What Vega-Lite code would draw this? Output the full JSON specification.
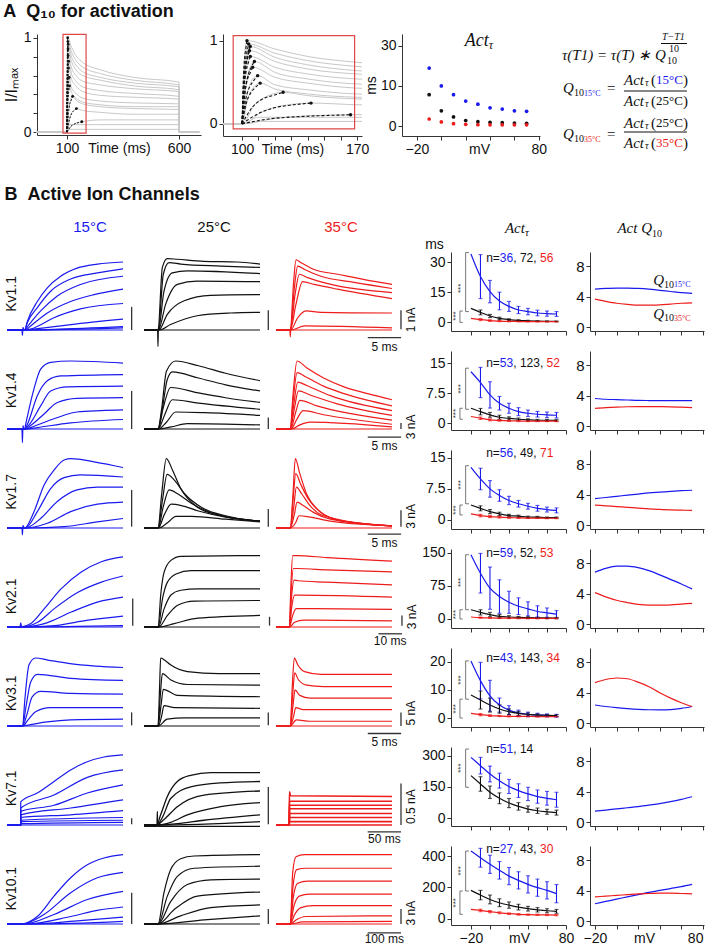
{
"$schema":"https://vega.github.io/schema/vega-lite/v6.json",
"padding":{"left":3,"top":2,"right":0,"bottom":0},
"title":{"text":"A\u00a0\u00a0Q₁₀ for activation","anchor":"start","fontSize":18,"fontWeight":"bold","offset":10},
"bounds":"full","spacing":29,
"config":{"view":{"stroke":null},"font":"Liberation Sans",
"axis":{"labelFont":"Liberation Sans","labelFontSize":14,"titleFont":"Liberation Sans","titleFontSize":14,"titleFontWeight":"normal","domainColor":"#333333","tickColor":"#333333","labelColor":"#111111","titleColor":"#111111","tickSize":4,"grid":false,"labelPadding":2,"labelFlush":false,"labelOverlap":false},
"title":{"font":"Liberation Sans","fontWeight":"normal","fontSize":15,"color":"#111111"},
"text":{"font":"Liberation Sans","color":"#111111"}},
"datasets":{
"ga":[
{"i":1,"t":[-35,100,101,101.8,103,120,140,170,250,400,600,601,690],"v":[0,0,0.6,0.88,1.0,0.9,0.81,0.74,0.66,0.58,0.53,0,0]},
{"i":2,"t":[-35,100,101.2,102.4,104,120,140,170,250,400,600,601,690],"v":[0,0,0.58,0.84,0.96,0.85,0.76,0.69,0.62,0.55,0.5,0,0]},
{"i":3,"t":[-35,100,101.5,103,105,120,140,170,250,400,600,601,690],"v":[0,0,0.56,0.82,0.93,0.8,0.71,0.64,0.58,0.52,0.48,0,0]},
{"i":4,"t":[-35,100,101.4,102.7,104.5,120,140,170,250,400,600,601,690],"v":[0,0,0.53,0.77,0.88,0.75,0.66,0.6,0.55,0.49,0.45,0,0]},
{"i":5,"t":[-35,100,101.5,103,105,120,140,170,250,400,600,601,690],"v":[0,0,0.49,0.71,0.81,0.68,0.6,0.54,0.5,0.46,0.43,0,0]},
{"i":6,"t":[-35,100,102.3,104.5,107.5,120,140,170,250,400,600,601,690],"v":[0,0,0.45,0.66,0.75,0.62,0.54,0.48,0.44,0.41,0.38,0,0]},
{"i":7,"t":[-35,100,102,103.9,106.5,120,140,170,250,400,600,601,690],"v":[0,0,0.41,0.6,0.68,0.56,0.49,0.43,0.39,0.37,0.35,0,0]},
{"i":8,"t":[-35,100,102.9,105.7,109.5,120,140,170,250,400,600,601,690],"v":[0,0,0.35,0.51,0.58,0.47,0.41,0.36,0.33,0.31,0.3,0,0]},
{"i":9,"t":[-35,100,103.3,106.6,111,120,140,170,250,400,600,601,690],"v":[0,0,0.29,0.43,0.49,0.42,0.36,0.32,0.29,0.27,0.27,0,0]},
{"i":10,"t":[-35,100,107.5,115,125,140,170,250,400,600,601,690],"v":[0,0,0.23,0.33,0.38,0.34,0.3,0.27,0.25,0.24,0,0]},
{"i":11,"t":[-35,100,112.6,125.2,142,170,250,400,600,601,690],"v":[0,0,0.15,0.22,0.25,0.23,0.21,0.19,0.19,0,0]},
{"i":12,"t":[-35,100,119.8,139.6,166,250,400,600,601,690],"v":[0,0,0.066,0.097,0.11,0.13,0.13,0.13,0,0]},
{"i":13,"t":[-35,100,110,600,601,690],"v":[0,0,0.08,0.08,0,0]},
{"i":14,"t":[-35,100,110,600,601,690],"v":[0,0,0.03,0.03,0,0]}],
"gd":[
{"i":1,"t":[100,100.75,101.5,102.25,103],"v":[0,0.53,0.78,0.9,1.0]},
{"i":2,"t":[100,101,102,103,104],"v":[0,0.51,0.75,0.86,0.96]},
{"i":3,"t":[100,101.25,102.5,103.75,105],"v":[0,0.49,0.73,0.84,0.93]},
{"i":4,"t":[100,101.1,102.25,103.4,104.5],"v":[0,0.47,0.69,0.79,0.88]},
{"i":5,"t":[100,101.25,102.5,103.75,105],"v":[0,0.43,0.63,0.73,0.81]},
{"i":6,"t":[100,101.9,103.75,105.6,107.5],"v":[0,0.4,0.59,0.68,0.75]},
{"i":7,"t":[100,101.6,103.25,104.9,106.5],"v":[0,0.36,0.53,0.61,0.68]},
{"i":8,"t":[100,102.4,104.75,107.1,109.5],"v":[0,0.31,0.45,0.52,0.58]},
{"i":9,"t":[100,102.75,105.5,108.25,111],"v":[0,0.26,0.38,0.44,0.49]},
{"i":10,"t":[100,106.25,112.5,118.75,125],"v":[0,0.2,0.3,0.34,0.38]},
{"i":11,"t":[100,110.5,121,131.5,142],"v":[0,0.13,0.2,0.23,0.25]},
{"i":12,"t":[100,116.5,133,149.5,166],"v":[0,0.06,0.086,0.1,0.11]}],
"gp":[{"t":103,"v":1.0},{"t":104,"v":0.96},{"t":105,"v":0.93},{"t":104.5,"v":0.88},{"t":105,"v":0.81},{"t":107.5,"v":0.75},{"t":106.5,"v":0.68},{"t":109.5,"v":0.58},{"t":111,"v":0.49},{"t":125,"v":0.38},{"t":142,"v":0.25},{"t":166,"v":0.11}],
"a3":[
{"T":"15","mv":[-10,0,10,20,30,40,50,60,70],"m":[17.3,10.0,7.2,5.4,4.6,3.7,3.4,3.0,2.9]},
{"T":"25","mv":[-10,0,10,20,30,40,50,60,70],"m":[7.2,3.0,1.7,1.0,0.77,0.66,0.59,0.53,0.48]},
{"T":"35","mv":[-10,0,10,20,30,40,50,60,70],"m":[1.29,0.72,0.41,0.3,0.23,0.2,0.2,0.2,0.2]}],
"eq":[
{"k":"i15","x":6,"y":21,"txt":"τ(T1) = τ(T) ∗ Q"},
{"k":"r10","x":111,"y":27,"txt":"10"},
{"k":"i10","x":106,"y":3,"txt":"T−T1"},
{"k":"bar","x":105,"x2":131,"y":9.5,"y2":9.5},
{"k":"r10","x":113,"y":15,"txt":"10"},
{"k":"i15","x":7,"y":54,"txt":"Q"},
{"k":"r10","x":18,"y":59,"txt":"10"},
{"k":"t8","x":28,"y":60,"txt":"15°C","T":"15"},
{"k":"r15","x":51,"y":54,"txt":"="},
{"k":"i15","x":68,"y":46,"txt":"Act"},
{"k":"i10","x":89,"y":49,"txt":"τ"},
{"k":"r15","x":95,"y":46,"txt":"("},
{"k":"t13","x":100,"y":46,"txt":"15°C","T":"15"},
{"k":"r15","x":127,"y":46,"txt":")"},
{"k":"bar","x":68,"x2":131,"y":57,"y2":57},
{"k":"i15","x":68,"y":67,"txt":"Act"},
{"k":"i10","x":89,"y":70,"txt":"τ"},
{"k":"r15","x":95,"y":67,"txt":"("},
{"k":"t13","x":100,"y":67,"txt":"25°C","T":"25"},
{"k":"r15","x":127,"y":67,"txt":")"},
{"k":"i15","x":7,"y":100,"txt":"Q"},
{"k":"r10","x":18,"y":105,"txt":"10"},
{"k":"t8","x":28,"y":106,"txt":"35°C","T":"35"},
{"k":"r15","x":51,"y":100,"txt":"="},
{"k":"i15","x":68,"y":89,"txt":"Act"},
{"k":"i10","x":89,"y":92,"txt":"τ"},
{"k":"r15","x":95,"y":89,"txt":"("},
{"k":"t13","x":100,"y":89,"txt":"25°C","T":"25"},
{"k":"r15","x":127,"y":89,"txt":")"},
{"k":"bar","x":68,"x2":131,"y":98,"y2":98},
{"k":"i15","x":68,"y":109,"txt":"Act"},
{"k":"i10","x":89,"y":112,"txt":"τ"},
{"k":"r15","x":95,"y":109,"txt":"("},
{"k":"t13","x":100,"y":109,"txt":"35°C","T":"35"},
{"k":"r15","x":127,"y":109,"txt":")"}],
"tr":[
{"c":"1.1","T":"15","i":0,"t":[0,2.2,2.27,2.35,2.5,17.06],"v":[0,0,-0.08,0.04,0,0]},
{"c":"1.1","T":"15","i":1,"t":[0,2.6,3.0,4.46,5.93,7.89,10.3,13.3,17.06],"v":[0,0,0.13,0.42,0.62,0.79,0.91,0.97,1.0]},
{"c":"1.1","T":"15","i":2,"t":[0,2.6,3.0,4.46,6.42,9.36,13.3,17.06],"v":[0,0,0.11,0.33,0.57,0.75,0.84,0.9]},
{"c":"1.1","T":"15","i":3,"t":[0,2.6,3.24,4.95,7.4,10.8,17.06],"v":[0,0,0.08,0.28,0.5,0.67,0.79]},
{"c":"1.1","T":"15","i":4,"t":[0,2.7,3.48,5.93,9.36,12.8,17.06],"v":[0,0,0.06,0.25,0.42,0.52,0.6]},
{"c":"1.1","T":"15","i":5,"t":[0,2.8,3.97,6.9,10.8,17.06],"v":[0,0,0.03,0.18,0.31,0.39]},
{"c":"1.1","T":"15","i":6,"t":[0,3,4.46,9.36,17.06],"v":[0,0,0.02,0.08,0.16]},
{"c":"1.1","T":"15","i":7,"t":[0,3,6.9,17.06],"v":[0,0,0.01,0.05]},
{"c":"1.1","T":"15","i":8,"t":[0,3,17.06],"v":[0,0,0.03]},
{"c":"1.1","T":"25","i":0,"t":[0,2.0,2.06,2.12,2.25,17.06],"v":[0,0,-0.24,0.05,0,0]},
{"c":"1.1","T":"25","i":1,"t":[0,2.06,2.7,3.43,4.9,8.8,13.7,17.06],"v":[0,0,0.92,1.05,1.04,1.01,1.0,0.97]},
{"c":"1.1","T":"25","i":2,"t":[0,2.1,2.84,3.68,5.4,11.3,17.06],"v":[0,0,0.82,0.99,0.97,0.94,0.92]},
{"c":"1.1","T":"25","i":3,"t":[0,2.1,2.94,4.17,6.4,17.06],"v":[0,0,0.57,0.84,0.87,0.83]},
{"c":"1.1","T":"25","i":4,"t":[0,2.1,3.19,4.9,7.8,17.06],"v":[0,0,0.38,0.67,0.72,0.71]},
{"c":"1.1","T":"25","i":5,"t":[0,2.15,3.43,5.9,9.8,17.06],"v":[0,0,0.23,0.43,0.51,0.52]},
{"c":"1.1","T":"25","i":6,"t":[0,2.2,3.9,7.8,12.7,17.06],"v":[0,0,0.08,0.21,0.25,0.26]},
{"c":"1.1","T":"35","i":0,"t":[0,2.05,2.1,2.18,2.3,17.06],"v":[0,0,-0.1,0.04,0,0]},
{"c":"1.1","T":"35","i":1,"t":[0,2.1,2.6,2.94,3.68,5.6,9.07,13,17.06],"v":[0,0,0.72,1.03,0.99,0.89,0.82,0.74,0.67]},
{"c":"1.1","T":"35","i":2,"t":[0,2.1,2.7,3.19,4.2,6.6,11.5,17.06],"v":[0,0,0.62,0.94,0.89,0.79,0.7,0.61]},
{"c":"1.1","T":"35","i":3,"t":[0,2.1,2.8,3.43,4.66,8.1,17.06],"v":[0,0,0.52,0.82,0.77,0.67,0.55]},
{"c":"1.1","T":"35","i":4,"t":[0,2.1,2.94,3.9,5.6,9.07,17.06],"v":[0,0,0.38,0.71,0.67,0.6,0.46]},
{"c":"1.1","T":"35","i":5,"t":[0,2.15,3.19,4.4,6.6,17.06],"v":[0,0,0.18,0.28,0.26,0.25]},
{"c":"1.1","T":"35","i":6,"t":[0,2.2,4.2,17.06],"v":[0,0,0.06,0.03]},
{"c":"1.4","T":"15","i":0,"t":[0,2.2,2.27,2.35,2.5,17.06],"v":[0,0,-0.2,0.05,0,0]},
{"c":"1.4","T":"15","i":1,"t":[0,2.6,2.75,3.97,4.95,6.42,9.36,17.06],"v":[0,0,0.07,0.59,0.88,0.98,1.0,0.97]},
{"c":"1.4","T":"15","i":2,"t":[0,2.6,3.0,4.46,5.93,7.9,17.06],"v":[0,0,0.07,0.49,0.71,0.78,0.8]},
{"c":"1.4","T":"15","i":3,"t":[0,2.6,3.24,4.95,6.42,8.9,17.06],"v":[0,0,0.06,0.34,0.56,0.62,0.63]},
{"c":"1.4","T":"15","i":4,"t":[0,2.7,3.48,5.44,7.4,10.3,17.06],"v":[0,0,0.05,0.22,0.39,0.45,0.46]},
{"c":"1.4","T":"15","i":5,"t":[0,2.8,3.97,6.9,10.3,13.8,17.06],"v":[0,0,0.04,0.15,0.25,0.27,0.28]},
{"c":"1.4","T":"15","i":6,"t":[0,3,4.46,9.36,17.06],"v":[0,0,0.02,0.09,0.14]},
{"c":"1.4","T":"25","i":0,"t":[0,17.06],"v":[0,0]},
{"c":"1.4","T":"25","i":1,"t":[0,2.06,2.6,3.3,4.66,8,12,17.06],"v":[0,0,0.3,0.85,1.0,0.93,0.82,0.71]},
{"c":"1.4","T":"25","i":2,"t":[0,2.06,2.7,3.4,4.17,8,12,17.06],"v":[0,0,0.3,0.72,0.84,0.75,0.65,0.56]},
{"c":"1.4","T":"25","i":3,"t":[0,2.1,2.8,3.92,8,12,17.06],"v":[0,0,0.3,0.61,0.53,0.46,0.39]},
{"c":"1.4","T":"25","i":4,"t":[0,2.1,3.0,4.17,8,17.06],"v":[0,0,0.2,0.43,0.38,0.29]},
{"c":"1.4","T":"25","i":5,"t":[0,2.15,3.3,4.66,9,17.06],"v":[0,0,0.1,0.25,0.24,0.2]},
{"c":"1.4","T":"25","i":6,"t":[0,2.2,4,6.37,17.06],"v":[0,0,0.03,0.08,0.06]},
{"c":"1.4","T":"35","i":0,"t":[0,17.06],"v":[0,0]},
{"c":"1.4","T":"35","i":1,"t":[0,2.1,2.5,3.09,4.5,7,10,13.5,17.06],"v":[0,0,0.5,1.0,0.9,0.75,0.62,0.52,0.43]},
{"c":"1.4","T":"35","i":2,"t":[0,2.1,2.5,3.1,4.5,7,10,17.06],"v":[0,0,0.4,0.83,0.76,0.63,0.52,0.34]},
{"c":"1.4","T":"35","i":3,"t":[0,2.1,2.6,3.2,4.5,8,17.06],"v":[0,0,0.35,0.69,0.64,0.49,0.27]},
{"c":"1.4","T":"35","i":4,"t":[0,2.1,2.7,3.3,5,9,17.06],"v":[0,0,0.3,0.56,0.5,0.37,0.2]},
{"c":"1.4","T":"35","i":5,"t":[0,2.15,2.9,3.5,6,17.06],"v":[0,0,0.25,0.42,0.34,0.13]},
{"c":"1.4","T":"35","i":6,"t":[0,2.2,3.1,4,7,17.06],"v":[0,0,0.15,0.27,0.21,0.07]},
{"c":"1.4","T":"35","i":7,"t":[0,2.3,3.5,5,17.06],"v":[0,0,0.06,0.1,0.03]},
{"c":"1.7","T":"15","i":0,"t":[0,2.2,2.27,2.35,2.5,17.06],"v":[0,0,-0.1,0.04,0,0]},
{"c":"1.7","T":"15","i":1,"t":[0,2.6,3.97,5.44,6.9,8.4,9.4,13,17.06],"v":[0,0,0.24,0.63,0.85,1.0,1.02,0.97,0.89]},
{"c":"1.7","T":"15","i":2,"t":[0,2.7,4.46,6.42,8.4,10.8,17.06],"v":[0,0,0.24,0.58,0.74,0.78,0.75]},
{"c":"1.7","T":"15","i":3,"t":[0,2.7,4.95,7.4,10.3,13.3,17.06],"v":[0,0,0.14,0.39,0.56,0.6,0.6]},
{"c":"1.7","T":"15","i":4,"t":[0,2.8,5.93,9.36,13.3,17.06],"v":[0,0,0.07,0.24,0.35,0.38]},
{"c":"1.7","T":"15","i":5,"t":[0,3,8.4,13.3,17.06],"v":[0,0,0.02,0.09,0.14]},
{"c":"1.7","T":"25","i":0,"t":[0,17.06],"v":[0,0]},
{"c":"1.7","T":"25","i":1,"t":[0,2.06,2.6,3.28,4.2,5.4,7.8,11.3,17.06],"v":[0,0,0.5,1.02,0.85,0.58,0.31,0.18,0.1]},
{"c":"1.7","T":"25","i":2,"t":[0,2.06,2.7,3.4,4.5,6,8.5,12,17.06],"v":[0,0,0.4,0.79,0.7,0.5,0.3,0.18,0.1]},
{"c":"1.7","T":"25","i":3,"t":[0,2.1,2.8,3.7,5,7,10,17.06],"v":[0,0,0.3,0.56,0.5,0.36,0.22,0.1]},
{"c":"1.7","T":"25","i":4,"t":[0,2.1,3,4,5.5,8,12,17.06],"v":[0,0,0.2,0.35,0.33,0.25,0.16,0.1]},
{"c":"1.7","T":"25","i":5,"t":[0,2.2,3.5,4.7,7,12,17.06],"v":[0,0,0.08,0.17,0.17,0.13,0.09]},
{"c":"1.7","T":"35","i":0,"t":[0,17.06],"v":[0,0]},
{"c":"1.7","T":"35","i":1,"t":[0,2.1,2.5,2.84,3.5,4.5,6,9,17.06],"v":[0,0,0.5,1.02,0.8,0.5,0.28,0.12,0.03]},
{"c":"1.7","T":"35","i":2,"t":[0,2.1,2.5,2.9,3.6,4.8,6.5,9,17.06],"v":[0,0,0.4,0.8,0.65,0.42,0.24,0.12,0.03]},
{"c":"1.7","T":"35","i":3,"t":[0,2.1,2.6,3.0,3.8,5,7,17.06],"v":[0,0,0.3,0.6,0.5,0.33,0.18,0.03]},
{"c":"1.7","T":"35","i":4,"t":[0,2.1,2.7,3.1,4,5.5,8,17.06],"v":[0,0,0.2,0.38,0.33,0.23,0.13,0.03]},
{"c":"1.7","T":"35","i":5,"t":[0,2.15,2.9,3.4,5,8,17.06],"v":[0,0,0.08,0.18,0.16,0.1,0.03]},
{"c":"2.1","T":"15","i":0,"t":[0,5.6,5.9,6.3,50],"v":[0,0,0.06,0,0]},
{"c":"2.1","T":"15","i":1,"t":[0,5.9,10.3,16.1,23.3,32,40.7,50],"v":[0,0,0.05,0.27,0.56,0.81,0.96,1.03]},
{"c":"2.1","T":"15","i":2,"t":[0,6.5,13.2,20.4,30.6,40.7,50],"v":[0,0,0.07,0.27,0.51,0.66,0.75]},
{"c":"2.1","T":"15","i":3,"t":[0,7,16.1,27.7,39.3,50],"v":[0,0,0.05,0.22,0.37,0.44]},
{"c":"2.1","T":"15","i":4,"t":[0,8,20.4,34.9,50],"v":[0,0,0.02,0.1,0.16]},
{"c":"2.1","T":"15","i":5,"t":[0,7,50],"v":[0,0,0.02]},
{"c":"2.1","T":"25","i":0,"t":[0,50],"v":[0,0]},
{"c":"2.1","T":"25","i":1,"t":[0,6.1,7.2,8.7,11.6,15.9,50],"v":[0,0,0.47,0.81,0.98,1.04,1.05]},
{"c":"2.1","T":"25","i":2,"t":[0,6.1,8,10.1,13.8,20.3,50],"v":[0,0,0.42,0.66,0.78,0.83,0.83]},
{"c":"2.1","T":"25","i":3,"t":[0,6.2,8.7,11.6,15.9,23.2,50],"v":[0,0,0.27,0.47,0.54,0.56,0.56]},
{"c":"2.1","T":"25","i":4,"t":[0,6.3,10.1,14.5,21.7,50],"v":[0,0,0.17,0.32,0.38,0.39]},
{"c":"2.1","T":"25","i":5,"t":[0,6.5,13,23.2,50],"v":[0,0,0.05,0.13,0.17]},
{"c":"2.1","T":"35","i":0,"t":[0,50],"v":[0,0]},
{"c":"2.1","T":"35","i":1,"t":[0,5.8,6.4,7.2,9,22,50],"v":[0,0,0.6,1.05,1.05,1.02,0.97]},
{"c":"2.1","T":"35","i":2,"t":[0,5.8,6.5,7.5,9,22,50],"v":[0,0,0.5,0.86,0.86,0.84,0.81]},
{"c":"2.1","T":"35","i":3,"t":[0,5.8,6.6,7.8,9.5,22,50],"v":[0,0,0.4,0.69,0.68,0.66,0.62]},
{"c":"2.1","T":"35","i":4,"t":[0,5.8,6.8,8,10,50],"v":[0,0,0.3,0.47,0.47,0.44]},
{"c":"2.1","T":"35","i":5,"t":[0,5.8,7,8.7,12,50],"v":[0,0,0.15,0.27,0.27,0.26]},
{"c":"2.1","T":"35","i":6,"t":[0,5.9,8,12,50],"v":[0,0,0.07,0.1,0.09]},
{"c":"3.1","T":"15","i":0,"t":[0,2.25,17.06],"v":[0,0,0]},
{"c":"3.1","T":"15","i":1,"t":[0,2.3,2.6,3.24,4.2,6,9,13,17.06],"v":[0,0,0.36,0.9,1.0,0.97,0.92,0.88,0.86]},
{"c":"3.1","T":"15","i":2,"t":[0,2.3,2.75,3.5,4.46,9.36,17.06],"v":[0,0,0.26,0.65,0.76,0.7,0.67]},
{"c":"3.1","T":"15","i":3,"t":[0,2.3,2.9,3.7,4.95,9.36,17.06],"v":[0,0,0.16,0.43,0.51,0.48,0.47]},
{"c":"3.1","T":"15","i":4,"t":[0,2.3,3.1,4.2,6.4,17.06],"v":[0,0,0.09,0.21,0.27,0.27]},
{"c":"3.1","T":"15","i":5,"t":[0,2.4,3.5,5.9,9.36,17.06],"v":[0,0,0.02,0.06,0.09,0.1]},
{"c":"3.1","T":"25","i":0,"t":[0,17.06],"v":[0,0]},
{"c":"3.1","T":"25","i":1,"t":[0,2.06,2.3,2.45,3.0,3.9,6.4,11,17.06],"v":[0,0,0.6,1.0,0.97,0.9,0.8,0.77,0.77]},
{"c":"3.1","T":"25","i":2,"t":[0,2.06,2.4,2.7,3.9,6.4,17.06],"v":[0,0,0.45,0.77,0.68,0.61,0.6]},
{"c":"3.1","T":"25","i":3,"t":[0,2.06,2.5,2.84,4.9,17.06],"v":[0,0,0.3,0.54,0.45,0.43]},
{"c":"3.1","T":"25","i":4,"t":[0,2.1,2.6,2.94,4.5,17.06],"v":[0,0,0.15,0.3,0.27,0.26]},
{"c":"3.1","T":"25","i":5,"t":[0,2.1,3.4,6,17.06],"v":[0,0,0.1,0.12,0.12]},
{"c":"3.1","T":"35","i":0,"t":[0,17.06],"v":[0,0]},
{"c":"3.1","T":"35","i":1,"t":[0,2.1,2.4,2.7,3.2,4.2,6.6,17.06],"v":[0,0,0.6,1.0,0.9,0.8,0.76,0.76]},
{"c":"3.1","T":"35","i":2,"t":[0,2.1,2.45,2.75,3.3,4.5,7,17.06],"v":[0,0,0.45,0.78,0.68,0.6,0.58,0.58]},
{"c":"3.1","T":"35","i":3,"t":[0,2.1,2.5,2.8,3.5,5,17.06],"v":[0,0,0.3,0.53,0.45,0.41,0.41]},
{"c":"3.1","T":"35","i":4,"t":[0,2.1,2.6,2.9,4,17.06],"v":[0,0,0.15,0.27,0.24,0.24]},
{"c":"3.1","T":"35","i":5,"t":[0,2.1,3,5,17.06],"v":[0,0,0.09,0.07,0.07]},
{"c":"7.1","T":"15","i":0,"t":[0,20.5,174],"v":[0,0,0]},
{"c":"7.1","T":"15","i":1,"t":[0,20.5,20.6,45.5,70.5,95.5,120.5,145.5,174],"v":[0,0,0.34,0.47,0.64,0.81,0.93,1.0,1.03]},
{"c":"7.1","T":"15","i":2,"t":[0,20.5,20.6,70.5,120.5,174],"v":[0,0,0.25,0.44,0.7,0.81]},
{"c":"7.1","T":"15","i":3,"t":[0,20.5,20.6,70.5,120.5,174],"v":[0,0,0.2,0.29,0.47,0.59]},
{"c":"7.1","T":"15","i":4,"t":[0,20.5,20.6,95.5,174],"v":[0,0,0.15,0.25,0.37]},
{"c":"7.1","T":"15","i":5,"t":[0,20.5,20.6,95.5,174],"v":[0,0,0.11,0.15,0.21]},
{"c":"7.1","T":"15","i":6,"t":[0,20.5,20.6,174],"v":[0,0,0.07,0.11]},
{"c":"7.1","T":"15","i":7,"t":[0,20.5,20.6,174],"v":[0,0,0.05,0.07]},
{"c":"7.1","T":"15","i":8,"t":[0,20.5,20.6,174],"v":[0,0,0.02,0.04]},
{"c":"7.1","T":"25","i":0,"t":[0,19.5,20,20.5,174],"v":[-0.02,-0.02,0.2,-0.02,-0.02]},
{"c":"7.1","T":"25","i":1,"t":[0,19,25,35,50,70,100,174],"v":[0,0,0.15,0.42,0.64,0.73,0.77,0.77]},
{"c":"7.1","T":"25","i":2,"t":[0,19,28,40,70,115,174],"v":[0,0,0.12,0.39,0.56,0.62,0.64]},
{"c":"7.1","T":"25","i":3,"t":[0,19,30,50,90,174],"v":[0,0,0.08,0.27,0.44,0.5]},
{"c":"7.1","T":"25","i":4,"t":[0,20,40,65,115,174],"v":[0,0,0.04,0.15,0.27,0.33]},
{"c":"7.1","T":"25","i":5,"t":[0,20,50,90,174],"v":[0,0,0.02,0.07,0.15]},
{"c":"7.1","T":"25","i":6,"t":[0,20,174],"v":[0,0,0.05]},
{"c":"7.1","T":"35","i":0,"t":[0,20,174],"v":[0,0,0]},
{"c":"7.1","T":"35","i":1,"t":[0,20,20.1,22,174],"v":[0,0,0.49,0.43,0.42]},
{"c":"7.1","T":"35","i":2,"t":[0,20,20.1,174],"v":[0,0,0.35,0.35]},
{"c":"7.1","T":"35","i":3,"t":[0,20,20.1,174],"v":[0,0,0.29,0.29]},
{"c":"7.1","T":"35","i":4,"t":[0,20,20.1,174],"v":[0,0,0.24,0.24]},
{"c":"7.1","T":"35","i":5,"t":[0,20,20.1,174],"v":[0,0,0.17,0.17]},
{"c":"7.1","T":"35","i":6,"t":[0,20,20.1,174],"v":[0,0,0.11,0.11]},
{"c":"7.1","T":"35","i":7,"t":[0,20,20.1,174],"v":[0,0,0.05,0.05]},
{"c":"10.1","T":"15","i":0,"t":[0,36,348],"v":[0,0,0]},
{"c":"10.1","T":"15","i":1,"t":[0,40,91,141,191,241,291,348],"v":[0,0,0.11,0.41,0.68,0.87,0.97,1.02]},
{"c":"10.1","T":"15","i":2,"t":[0,45,111,191,271,348],"v":[0,0,0.14,0.46,0.68,0.76]},
{"c":"10.1","T":"15","i":3,"t":[0,50,141,241,348],"v":[0,0,0.14,0.36,0.48]},
{"c":"10.1","T":"15","i":4,"t":[0,60,191,271,348],"v":[0,0,0.11,0.2,0.25]},
{"c":"10.1","T":"15","i":5,"t":[0,70,220,348],"v":[0,0,0.05,0.1]},
{"c":"10.1","T":"15","i":6,"t":[0,80,348],"v":[0,0,0.04]},
{"c":"10.1","T":"25","i":0,"t":[0,348],"v":[0,0]},
{"c":"10.1","T":"25","i":1,"t":[0,42,60,80,110,150,348],"v":[0,0,0.46,0.8,0.96,1.0,1.02]},
{"c":"10.1","T":"25","i":2,"t":[0,42,70,100,150,348],"v":[0,0,0.41,0.7,0.82,0.85]},
{"c":"10.1","T":"25","i":3,"t":[0,42,80,130,200,348],"v":[0,0,0.33,0.58,0.65,0.66]},
{"c":"10.1","T":"25","i":4,"t":[0,42,90,160,348],"v":[0,0,0.21,0.41,0.47]},
{"c":"10.1","T":"25","i":5,"t":[0,42,110,200,348],"v":[0,0,0.12,0.24,0.28]},
{"c":"10.1","T":"25","i":6,"t":[0,42,180,348],"v":[0,0,0.06,0.12]},
{"c":"10.1","T":"35","i":0,"t":[0,348],"v":[0,0]},
{"c":"10.1","T":"35","i":1,"t":[0,43,50,60,85,348],"v":[0,0,0.75,0.99,1.02,1.02]},
{"c":"10.1","T":"35","i":2,"t":[0,43,51,62,90,348],"v":[0,0,0.55,0.8,0.82,0.82]},
{"c":"10.1","T":"35","i":3,"t":[0,43,52,65,95,348],"v":[0,0,0.4,0.6,0.63,0.63]},
{"c":"10.1","T":"35","i":4,"t":[0,43,53,70,100,348],"v":[0,0,0.25,0.41,0.44,0.44]},
{"c":"10.1","T":"35","i":5,"t":[0,43,55,75,110,348],"v":[0,0,0.13,0.24,0.27,0.27]},
{"c":"10.1","T":"35","i":6,"t":[0,43,60,90,348],"v":[0,0,0.06,0.11,0.12]},
{"c":"10.1","T":"35","i":7,"t":[0,43,80,348],"v":[0,0,0.03,0.04]}],
"bar":[
{"c":"1.1","T":"15","t":18.33,"t2":18.33,"v":0,"v2":0.34},
{"c":"1.1","T":"25","t":18.28,"t2":18.28,"v":0,"v2":0.29},
{"c":"1.1","T":"35","t":18.38,"t2":18.38,"v":0.01,"v2":0.29},
{"c":"1.1","T":"35","t":13.5,"t2":18.4,"v":-0.113,"v2":-0.113},
{"c":"1.4","T":"15","t":18.33,"t2":18.33,"v":0,"v2":0.56},
{"c":"1.4","T":"25","t":18.28,"t2":18.28,"v":0,"v2":0.17},
{"c":"1.4","T":"35","t":18.38,"t2":18.38,"v":0,"v2":0.09},
{"c":"1.4","T":"35","t":13.5,"t2":18.4,"v":-0.12,"v2":-0.12},
{"c":"1.7","T":"15","t":18.33,"t2":18.33,"v":0.02,"v2":0.56},
{"c":"1.7","T":"25","t":18.28,"t2":18.28,"v":0.02,"v2":0.28},
{"c":"1.7","T":"35","t":18.38,"t2":18.38,"v":0.02,"v2":0.26},
{"c":"1.7","T":"35","t":13.5,"t2":18.4,"v":-0.09,"v2":-0.09},
{"c":"2.1","T":"15","t":54.2,"t2":54.2,"v":0.02,"v2":0.42},
{"c":"2.1","T":"25","t":54.1,"t2":54.1,"v":0.02,"v2":0.15},
{"c":"2.1","T":"35","t":54.3,"t2":54.3,"v":0.02,"v2":0.17},
{"c":"2.1","T":"35","t":44.2,"t2":54.3,"v":-0.1,"v2":-0.1},
{"c":"3.1","T":"15","t":18.33,"t2":18.33,"v":0.01,"v2":0.2},
{"c":"3.1","T":"25","t":18.28,"t2":18.28,"v":0.01,"v2":0.2},
{"c":"3.1","T":"35","t":18.38,"t2":18.38,"v":0,"v2":0.2},
{"c":"3.1","T":"35","t":13.5,"t2":18.4,"v":-0.11,"v2":-0.11},
{"c":"7.1","T":"15","t":187,"t2":187,"v":0.01,"v2":0.1},
{"c":"7.1","T":"25","t":186.5,"t2":186.5,"v":0.01,"v2":0.56},
{"c":"7.1","T":"35","t":187.5,"t2":187.5,"v":0,"v2":0.61},
{"c":"7.1","T":"35","t":137.5,"t2":187.5,"v":-0.1,"v2":-0.1},
{"c":"10.1","T":"15","t":374,"t2":374,"v":0,"v2":0.46},
{"c":"10.1","T":"25","t":373,"t2":373,"v":0,"v2":0.22},
{"c":"10.1","T":"35","t":375,"t2":375,"v":0,"v2":0.22},
{"c":"10.1","T":"35","t":275,"t2":375,"v":-0.13,"v2":-0.13}],
"lab":[
{"c":"1.1","k":"hd","T":"15","t":12.2,"v":1.515,"txt":"15°C"},
{"c":"1.1","k":"hd","T":"25","t":10.3,"v":1.515,"txt":"25°C"},
{"c":"1.1","k":"hd","T":"35","t":9.56,"v":1.515,"txt":"35°C"},
{"c":"1.1","k":"kv","t":0.8,"v":0.53,"txt":"Kv1.1"},
{"c":"1.4","k":"kv","t":0.8,"v":0.57,"txt":"Kv1.4"},
{"c":"1.7","k":"kv","t":0.8,"v":0.53,"txt":"Kv1.7"},
{"c":"2.1","k":"kv","t":2.35,"v":0.45,"txt":"Kv2.1"},
{"c":"3.1","k":"kv","t":0.8,"v":0.48,"txt":"Kv3.1"},
{"c":"7.1","k":"kv","t":8.2,"v":0.54,"txt":"Kv7.1"},
{"c":"10.1","k":"kv","t":16.3,"v":0.52,"txt":"Kv10.1"},
{"c":"1.1","k":"na","t":19.85,"v":0.15,"txt":"1 nA"},
{"c":"1.4","k":"na","t":19.85,"v":0.03,"txt":"3 nA"},
{"c":"1.7","k":"na","t":19.85,"v":0.17,"txt":"3 nA"},
{"c":"2.1","k":"na","t":58.6,"v":0.15,"txt":"3 nA"},
{"c":"3.1","k":"na","t":19.85,"v":0.19,"txt":"5 nA"},
{"c":"7.1","k":"na","t":202.5,"v":0.27,"txt":"0.5 nA"},
{"c":"10.1","k":"na","t":405,"v":0.16,"txt":"3 nA"},
{"c":"1.1","k":"ms","t":15.95,"v":-0.25,"txt":"5 ms"},
{"c":"1.4","k":"ms","t":15.95,"v":-0.25,"txt":"5 ms"},
{"c":"1.7","k":"ms","t":15.95,"v":-0.22,"txt":"5 ms"},
{"c":"2.1","k":"ms","t":49.2,"v":-0.21,"txt":"10 ms"},
{"c":"3.1","k":"ms","t":15.95,"v":-0.24,"txt":"5 ms"},
{"c":"7.1","k":"ms","t":162.5,"v":-0.21,"txt":"50 ms"},
{"c":"10.1","k":"ms","t":325,"v":-0.22,"txt":"100 ms"}],
"tau":[
{"c":"1.1","T":"15","mv":[-20,-10,0,10,20,30,40,50,60,70],"m":[34,22.7,15.2,10.5,7.8,6.0,5.2,4.5,4.2,4.0],"e":[0,11,5.6,4.4,2.5,1.8,1.6,1.4,1.3,1.2]},
{"c":"1.1","T":"25","mv":[-20,-10,0,10,20,30,40,50,60,70],"m":[6.8,4.8,3.0,1.8,1.2,0.8,0.6,0.45,0.35,0.3],"e":[0,1.2,0.8,0.6,0.4,0.3,0.25,0.2,0.2,0.2]},
{"c":"1.1","T":"35","mv":[-20,-10,0,10,20,30,40,50,60,70],"m":[1.8,1.2,0.7,0.45,0.3,0.25,0.2,0.2,0.15,0.15],"e":[0,0.5,0.4,0.3,0.2,0.2,0.15,0.15,0.1,0.1]},
{"c":"1.4","T":"15","mv":[-20,-10,0,10,20,30,40,50,60,70],"m":[12.9,10.2,7.1,5.0,3.75,2.9,2.5,2.25,2.1,2.0],"e":[0,3.8,3.3,1.7,1.25,1.0,0.8,0.7,0.7,0.7]},
{"c":"1.4","T":"25","mv":[-20,-10,0,10,20,30,40,50,60,70],"m":[3.75,2.9,2.1,1.5,1.2,1.0,0.85,0.75,0.75,0.7],"e":[0,0.8,0.6,0.5,0.4,0.3,0.25,0.2,0.2,0.2]},
{"c":"1.4","T":"35","mv":[-20,-10,0,10,20,30,40,50,60,70],"m":[1.7,1.25,0.85,0.7,0.6,0.55,0.5,0.5,0.5,0.5],"e":[0,0.3,0.25,0.2,0.15,0.15,0.1,0.1,0.1,0.1]},
{"c":"1.7","T":"15","mv":[-20,-10,0,10,20,30,40,50,60,70],"m":[12.7,9.9,7.5,5.9,4.7,3.9,3.3,2.8,2.5,2.3],"e":[0,2.6,2.0,1.4,1.0,0.8,0.7,0.7,0.6,0.6]},
{"c":"1.7","T":"25","mv":[-20,-10,0,10,20,30,40,50,60,70],"m":[3.6,2.8,2.0,1.45,1.05,0.9,0.7,0.65,0.55,0.55],"e":[0,0.6,0.5,0.4,0.3,0.25,0.2,0.2,0.15,0.15]},
{"c":"1.7","T":"35","mv":[-20,-10,0,10,20,30,40,50,60,70],"m":[1.45,1.05,0.8,0.65,0.55,0.5,0.45,0.45,0.4,0.4],"e":[0,0.3,0.25,0.2,0.15,0.15,0.1,0.1,0.1,0.1]},
{"c":"2.1","T":"15","mv":[-20,-10,0,10,20,30,40,50,60,70],"m":[146,104,70,51,38,29,23,17,14,11],"e":[0,45,48,38,25,19,16,13,11,8]},
{"c":"2.1","T":"25","mv":[-20,-10,0,10,20,30,40,50,60,70],"m":[21,15,10,6,4.5,3.5,3,2.5,2.3,2],"e":[0,6,5,4,3,2,2,1.5,1.5,1.5]},
{"c":"2.1","T":"35","mv":[-20,-10,0,10,20,30,40,50,60,70],"m":[4.5,3,2.3,2,1.8,1.6,1.5,1.5,1.5,1.5],"e":[0,1.5,1,1,1,1,1,1,1,1]},
{"c":"3.1","T":"15","mv":[-20,-10,0,10,20,30,40,50,60,70],"m":[20.3,13.3,7.9,4.6,2.8,1.8,1.3,1.1,0.95,0.8],"e":[0,6.5,5.5,2.5,1.6,1.0,0.8,0.6,0.5,0.5]},
{"c":"3.1","T":"25","mv":[-20,-10,0,10,20,30,40,50,60,70],"m":[8.2,6.4,4.6,3.2,2.25,1.65,1.3,1.05,0.95,0.85],"e":[0,3.2,2.5,1.5,1.0,0.7,0.5,0.4,0.3,0.3]},
{"c":"3.1","T":"35","mv":[-20,-10,0,10,20,30,40,50,60,70],"m":[1.65,1.2,0.85,0.7,0.6,0.6,0.55,0.5,0.5,0.5],"e":[0,0.4,0.3,0.2,0.2,0.2,0.15,0.15,0.1,0.1]},
{"c":"7.1","T":"15","mv":[-20,-10,0,10,20,30,40,50,60,70],"m":[292,252,212,180,152,132,116,103,95,88],"e":[0,40,38,36,34,33,32,32,33,36]},
{"c":"7.1","T":"25","mv":[-20,-10,0,10,20,30,40,50,60,70],"m":[204,164,124,95,72,56,43,35,30,26],"e":[0,35,30,26,22,18,15,13,12,12]},
{"c":"10.1","T":"15","mv":[-20,-10,0,10,20,30,40,50,60,70],"m":[432,389,347,309,272,245,219,198,181,160],"e":[0,60,58,56,55,55,55,55,55,58]},
{"c":"10.1","T":"25","mv":[-20,-10,0,10,20,30,40,50,60,70],"m":[181,151,123,102,87,74,64,57,51,47],"e":[0,30,28,25,20,18,15,14,13,12]},
{"c":"10.1","T":"35","mv":[-20,-10,0,10,20,30,40,50,60,70],"m":[60,53,45,38,32,28,26,25,24,23],"e":[0,8,7,6,5,5,4,4,4,4]}],
"ntx":[
{"c":"1.1","T":"k","mv":-4,"m":32,"txt":"n="},{"c":"1.1","T":"15","mv":10.4,"m":32,"txt":"36"},{"c":"1.1","T":"k","mv":24.5,"m":32,"txt":", 72,"},{"c":"1.1","T":"35","mv":52.6,"m":32,"txt":"56"},
{"c":"1.4","T":"k","mv":-4,"m":15.2,"txt":"n="},{"c":"1.4","T":"15","mv":10.4,"m":15.2,"txt":"53"},{"c":"1.4","T":"k","mv":24.5,"m":15.2,"txt":", 123,"},{"c":"1.4","T":"35","mv":59.6,"m":15.2,"txt":"52"},
{"c":"1.7","T":"k","mv":-4,"m":16.2,"txt":"n="},{"c":"1.7","T":"15","mv":10.4,"m":16.2,"txt":"56"},{"c":"1.7","T":"k","mv":24.5,"m":16.2,"txt":", 49,"},{"c":"1.7","T":"35","mv":52.6,"m":16.2,"txt":"71"},
{"c":"2.1","T":"k","mv":-4,"m":150.7,"txt":"n="},{"c":"2.1","T":"15","mv":10.4,"m":150.7,"txt":"59"},{"c":"2.1","T":"k","mv":24.5,"m":150.7,"txt":", 52,"},{"c":"2.1","T":"35","mv":52.6,"m":150.7,"txt":"53"},
{"c":"3.1","T":"k","mv":-4,"m":21.3,"txt":"n="},{"c":"3.1","T":"15","mv":10.4,"m":21.3,"txt":"43"},{"c":"3.1","T":"k","mv":24.5,"m":21.3,"txt":", 143,"},{"c":"3.1","T":"35","mv":59.6,"m":21.3,"txt":"34"},
{"c":"7.1","T":"k","mv":-4,"m":332,"txt":"n="},{"c":"7.1","T":"15","mv":10.4,"m":332,"txt":"51"},{"c":"7.1","T":"k","mv":24.5,"m":332,"txt":", 14"},
{"c":"10.1","T":"k","mv":-4,"m":446,"txt":"n="},{"c":"10.1","T":"15","mv":10.4,"m":446,"txt":"27"},{"c":"10.1","T":"k","mv":24.5,"m":446,"txt":", 43,"},{"c":"10.1","T":"35","mv":52.6,"m":446,"txt":"30"}],
"brk":[
{"c":"1.1","mv":-25.6,"mv2":-25.6,"m":5.2,"m2":34.7},{"c":"1.1","mv":-25.6,"mv2":-22.1,"m":5.2,"m2":5.2},{"c":"1.1","mv":-25.6,"mv2":-22.1,"m":34.7,"m2":34.7},
{"c":"1.1","mv":-31.6,"mv2":-31.6,"m":-0.2,"m2":5.5},{"c":"1.1","mv":-31.6,"mv2":-28.6,"m":-0.2,"m2":-0.2},{"c":"1.1","mv":-31.6,"mv2":-28.6,"m":5.5,"m2":5.5},
{"c":"1.4","mv":-25.6,"mv2":-25.6,"m":3.5,"m2":13.8},{"c":"1.4","mv":-25.6,"mv2":-22.1,"m":3.5,"m2":3.5},{"c":"1.4","mv":-25.6,"mv2":-22.1,"m":13.8,"m2":13.8},
{"c":"1.4","mv":-31.6,"mv2":-31.6,"m":1.0,"m2":3.75},{"c":"1.4","mv":-31.6,"mv2":-28.6,"m":1.0,"m2":1.0},{"c":"1.4","mv":-31.6,"mv2":-28.6,"m":3.75,"m2":3.75},
{"c":"1.7","mv":-25.6,"mv2":-25.6,"m":3.9,"m2":13.1},{"c":"1.7","mv":-25.6,"mv2":-22.1,"m":3.9,"m2":3.9},{"c":"1.7","mv":-25.6,"mv2":-22.1,"m":13.1,"m2":13.1},
{"c":"1.7","mv":-31.6,"mv2":-31.6,"m":1.2,"m2":3.6},{"c":"1.7","mv":-31.6,"mv2":-28.6,"m":1.2,"m2":1.2},{"c":"1.7","mv":-31.6,"mv2":-28.6,"m":3.6,"m2":3.6},
{"c":"2.1","mv":-25.6,"mv2":-25.6,"m":21,"m2":146},{"c":"2.1","mv":-25.6,"mv2":-22.1,"m":21,"m2":21},{"c":"2.1","mv":-25.6,"mv2":-22.1,"m":146,"m2":146},
{"c":"2.1","mv":-31.6,"mv2":-31.6,"m":0,"m2":21},{"c":"2.1","mv":-31.6,"mv2":-28.6,"m":0,"m2":0},{"c":"2.1","mv":-31.6,"mv2":-28.6,"m":21,"m2":21},
{"c":"3.1","mv":-25.6,"mv2":-25.6,"m":6.7,"m2":20.3},{"c":"3.1","mv":-25.6,"mv2":-22.1,"m":6.7,"m2":6.7},{"c":"3.1","mv":-25.6,"mv2":-22.1,"m":20.3,"m2":20.3},
{"c":"3.1","mv":-31.6,"mv2":-31.6,"m":0,"m2":6.7},{"c":"3.1","mv":-31.6,"mv2":-28.6,"m":0,"m2":0},{"c":"3.1","mv":-31.6,"mv2":-28.6,"m":6.7,"m2":6.7},
{"c":"7.1","mv":-25.6,"mv2":-25.6,"m":148,"m2":332},{"c":"7.1","mv":-25.6,"mv2":-22.1,"m":148,"m2":148},{"c":"7.1","mv":-25.6,"mv2":-22.1,"m":332,"m2":332},
{"c":"10.1","mv":-25.6,"mv2":-25.6,"m":177,"m2":432},{"c":"10.1","mv":-25.6,"mv2":-22.1,"m":177,"m2":177},{"c":"10.1","mv":-25.6,"mv2":-22.1,"m":432,"m2":432},
{"c":"10.1","mv":-31.6,"mv2":-31.6,"m":28,"m2":177},{"c":"10.1","mv":-31.6,"mv2":-28.6,"m":28,"m2":28},{"c":"10.1","mv":-31.6,"mv2":-28.6,"m":177,"m2":177}],
"str":[
{"c":"1.1","mv":-30.2,"m":16.8},{"c":"1.1","mv":-35.6,"m":3.0},
{"c":"1.4","mv":-30.2,"m":8.6},{"c":"1.4","mv":-35.6,"m":2.4},
{"c":"1.7","mv":-30.2,"m":8.5},{"c":"1.7","mv":-35.6,"m":2.4},
{"c":"2.1","mv":-30.2,"m":83},{"c":"2.1","mv":-35.6,"m":10},
{"c":"3.1","mv":-30.2,"m":13.5},{"c":"3.1","mv":-35.6,"m":3.3},
{"c":"7.1","mv":-30.2,"m":240},
{"c":"10.1","mv":-30.2,"m":305},{"c":"10.1","mv":-35.6,"m":102}],
"q10":[
{"c":"1.1","T":"15","mv":[-20,-10,0,10,20,30,40,50,60,70],"q":[5.0,5.1,5.15,5.15,5.1,5.0,4.85,4.7,4.55,4.45]},
{"c":"1.1","T":"35","mv":[-20,-10,0,10,20,30,40,50,60,70],"q":[3.7,3.4,3.15,3.0,2.9,2.9,2.95,3.05,3.15,3.2]},
{"c":"1.4","T":"15","mv":[-20,-10,0,10,20,30,40,50,60,70],"q":[3.65,3.55,3.5,3.45,3.4,3.38,3.37,3.37,3.37,3.37]},
{"c":"1.4","T":"35","mv":[-20,-10,0,10,20,30,40,50,60,70],"q":[2.35,2.45,2.52,2.56,2.58,2.58,2.57,2.55,2.5,2.45]},
{"c":"1.7","T":"15","mv":[-20,-10,0,10,20,30,40,50,60,70],"q":[3.5,3.65,3.8,3.95,4.1,4.25,4.35,4.45,4.55,4.6]},
{"c":"1.7","T":"35","mv":[-20,-10,0,10,20,30,40,50,60,70],"q":[2.65,2.55,2.45,2.35,2.25,2.15,2.08,2.02,1.98,1.95]},
{"c":"2.1","T":"15","mv":[-20,-10,0,10,20,30,40,50,60,70],"q":[6.85,7.35,7.65,7.65,7.45,7.05,6.5,5.9,5.3,4.65]},
{"c":"2.1","T":"35","mv":[-20,-10,0,10,20,30,40,50,60,70],"q":[4.15,3.6,3.15,2.85,2.6,2.5,2.5,2.55,2.65,2.75]},
{"c":"3.1","T":"15","mv":[-20,-10,0,10,20,30,40,50,60,70],"q":[2.4,2.2,2.05,1.93,1.83,1.77,1.75,1.8,1.95,2.2]},
{"c":"3.1","T":"35","mv":[-20,-10,0,10,20,30,40,50,60,70],"q":[5.35,5.75,5.95,5.85,5.4,4.8,4.0,3.3,2.7,2.2]},
{"c":"7.1","T":"15","mv":[-20,-10,0,10,20,30,40,50,60,70],"q":[1.45,1.6,1.75,1.9,2.05,2.25,2.45,2.7,3.0,3.35]},
{"c":"10.1","T":"15","mv":[-20,-10,0,10,20,30,40,50,60,70],"q":[2.3,2.6,2.9,3.2,3.5,3.8,4.05,4.3,4.55,4.85]},
{"c":"10.1","T":"35","mv":[-20,-10,0,10,20,30,40,50,60,70],"q":[3.2,3.3,3.4,3.5,3.6,3.65,3.7,3.7,3.65,3.6]}],
"qh":[
{"k":"ir","mv":32.8,"q":13.06,"txt":"Act Q"},
{"k":"rl","mv":32.8,"q":12.3,"txt":"10"},
{"k":"ir","mv":44,"q":6.2,"txt":"Q"},
{"k":"rl","mv":44,"q":5.6,"txt":"10"},
{"k":"tl","mv":53.3,"q":5.5,"txt":"15°C","T":"15"},
{"k":"ir","mv":44,"q":1.8,"txt":"Q"},
{"k":"rl","mv":44,"q":1.2,"txt":"10"},
{"k":"tl","mv":53.3,"q":1.1,"txt":"35°C","T":"35"}]
},
"vconcat":[
{"bounds":"flush","spacing":0,"hconcat":[
{"width":30,"height":1,"data":{"values":[{"a":1}]},"mark":{"type":"point","opacity":0},"encoding":{}},
{"width":164,"height":101,
 "encoding":{"x":{"field":"t","type":"quantitative","scale":{"domain":[-34,698]},"axis":{"values":[100,600],"title":"Time (ms)","titleY":13,"titleBaseline":"middle"}},
  "y":{"field":"v","type":"quantitative","scale":{"domain":[-0.03,1.04]},"axis":{"values":[0,0.2,0.4,0.6,0.8,1],"labelExpr":"datum.value==0?'0':datum.value==1?'1':''","title":"I/Iₘₐₓ","titleFontSize":16,"titlePadding":4}}},
 "layer":[
  {"data":{"name":"ga"},"transform":[{"flatten":["t","v"]}],"mark":{"type":"line","interpolate":"monotone","color":"#c8c8c8","strokeWidth":1},"encoding":{"detail":{"field":"i","type":"nominal"}}},
  {"data":{"name":"gd"},"transform":[{"flatten":["t","v"]}],"mark":{"type":"line","interpolate":"monotone","color":"#111111","strokeWidth":1,"strokeDash":[2,1.5]},"encoding":{"detail":{"field":"i","type":"nominal"}}},
  {"data":{"name":"gp"},"mark":{"type":"circle","color":"#111111","size":8,"opacity":1}},
  {"data":{"values":[{"t":82,"t2":185,"v":-0.01,"v2":1.035}]},"mark":{"type":"rect","filled":false,"stroke":"#e04848","strokeWidth":1.2},"encoding":{"x2":{"field":"t2"},"y2":{"field":"v2"}}}
 ]},
{"width":22,"height":1,"data":{"values":[{"a":1}]},"mark":{"type":"point","opacity":0},"encoding":{}},
{"width":139,"height":102,
 "encoding":{"x":{"field":"t","type":"quantitative","scale":{"domain":[88.4,173]},"axis":{"values":[100,110,120,130,140,150,160,170],"labelExpr":"datum.value==100||datum.value==170?datum.label:''","title":"Time (ms)","titleY":13,"titleBaseline":"middle"}},
  "y":{"field":"v","type":"quantitative","scale":{"domain":[-0.145,1.08]},"axis":{"values":[0,1],"labelExpr":"datum.value==0?'0':'1'","title":null}}},
 "layer":[
  {"data":{"name":"ga"},"transform":[{"flatten":["t","v"]}],"mark":{"type":"line","interpolate":"monotone","color":"#c8c8c8","strokeWidth":1,"clip":true},"encoding":{"detail":{"field":"i","type":"nominal"}}},
  {"data":{"name":"gd"},"transform":[{"flatten":["t","v"]}],"mark":{"type":"line","interpolate":"monotone","color":"#111111","strokeWidth":1.1,"strokeDash":[3,2],"clip":true},"encoding":{"detail":{"field":"i","type":"nominal"}}},
  {"data":{"name":"gp"},"mark":{"type":"circle","color":"#111111","size":12,"opacity":1}},
  {"data":{"values":[{"t":94.6,"t2":168.5,"v":-0.06,"v2":1.06}]},"mark":{"type":"rect","filled":false,"stroke":"#e04848","strokeWidth":1.2},"encoding":{"x2":{"field":"t2"},"y2":{"field":"v2"}}}
 ]},
{"width":40,"height":1,"data":{"values":[{"a":1}]},"mark":{"type":"point","opacity":0},"encoding":{}},
{"width":138,"height":102,
 "encoding":{"x":{"field":"mv","type":"quantitative","scale":{"domain":[-32.3,81]},"axis":{"values":[-20,0,20,40,60,80],"labelExpr":"datum.value==-20||datum.value==80?datum.label:''","title":"mV","titleX":77,"titleY":13,"titleBaseline":"middle"}},
  "y":{"field":"m","type":"quantitative","scale":{"type":"symlog","constant":10,"domain":[-1.89,39.2]},"axis":{"values":[0,10,30],"labelExpr":"''+datum.value","title":"ms","titlePadding":2}}},
 "layer":[
  {"data":{"name":"a3"},"transform":[{"flatten":["mv","m"]}],"mark":{"type":"circle","size":14,"opacity":1},"encoding":{"color":{"field":"T","type":"nominal","scale":{"domain":["15","25","35","k"],"range":["#1a1aee","#111111","#ee1c1c","#111111"]},"legend":null}}},
  {"data":{"values":[{"mv":39,"m":33.6,"txt":"Act"}]},"mark":{"type":"text","align":"right","font":"Liberation Serif","fontStyle":"italic","fontSize":18},"encoding":{"text":{"field":"txt","type":"nominal"}}},
  {"data":{"values":[{"mv":39,"m":30.7,"txt":"τ"}]},"mark":{"type":"text","align":"left","font":"Liberation Serif","fontStyle":"italic","fontSize":12},"encoding":{"text":{"field":"txt","type":"nominal"}}}
 ]},
{"width":16,"height":1,"data":{"values":[{"a":1}]},"mark":{"type":"point","opacity":0},"encoding":{}},
{"width":156,"height":115,
 "encoding":{"x":{"field":"x","type":"quantitative","scale":{"domain":[0,156]},"axis":null},"y":{"field":"y","type":"quantitative","scale":{"domain":[0,115],"reverse":true},"axis":null}},
 "layer":[
  {"data":{"name":"eq"},"transform":[{"filter":"datum.k=='i15'"}],"mark":{"type":"text","align":"left","font":"Liberation Serif","fontStyle":"italic","fontSize":15},"encoding":{"text":{"field":"txt","type":"nominal"}}},
  {"data":{"name":"eq"},"transform":[{"filter":"datum.k=='r10'"}],"mark":{"type":"text","align":"left","font":"Liberation Serif","fontSize":10},"encoding":{"text":{"field":"txt","type":"nominal"}}},
  {"data":{"name":"eq"},"transform":[{"filter":"datum.k=='i10'"}],"mark":{"type":"text","align":"left","font":"Liberation Serif","fontStyle":"italic","fontSize":10},"encoding":{"text":{"field":"txt","type":"nominal"}}},
  {"data":{"name":"eq"},"transform":[{"filter":"datum.k=='r15'"}],"mark":{"type":"text","align":"left","font":"Liberation Serif","fontSize":15},"encoding":{"text":{"field":"txt","type":"nominal"}}},
  {"data":{"name":"eq"},"transform":[{"filter":"datum.k=='t13'"}],"mark":{"type":"text","align":"left","font":"Liberation Serif","fontSize":13},"encoding":{"text":{"field":"txt","type":"nominal"},"color":{"field":"T","type":"nominal","scale":{"domain":["15","25","35","k"],"range":["#1a1aee","#111111","#ee1c1c","#111111"]},"legend":null}}},
  {"data":{"name":"eq"},"transform":[{"filter":"datum.k=='t8'"}],"mark":{"type":"text","align":"left","font":"Liberation Serif","fontSize":8},"encoding":{"text":{"field":"txt","type":"nominal"},"color":{"field":"T","type":"nominal","scale":{"domain":["15","25","35","k"],"range":["#1a1aee","#111111","#ee1c1c","#111111"]},"legend":null}}},
  {"data":{"name":"eq"},"transform":[{"filter":"datum.k=='bar'"}],"mark":{"type":"rule","color":"#111111","strokeWidth":1},"encoding":{"x2":{"field":"x2"},"y2":{"field":"y2"}}}
 ]}
]},
{"columns":9,"bounds":"flush","spacing":0,"concat":[
{"title":{"text":"B\u00a0\u00a0Active Ion Channels","anchor":"start","fontSize":18,"fontWeight":"bold","offset":16},"width":116,"height":98.7,"encoding":{"x":{"field":"t","type":"quantitative","scale":{"domain":[0,17.06]},"axis":null},"y":{"field":"v","type":"quantitative","scale":{"domain":[-0.3044,1.147]},"axis":null}},"layer":[
 {"data":{"name":"tr"},"transform":[{"filter":"datum.c=='1.1'&&datum.T=='15'"},{"flatten":["t","v"]}],"mark":{"type":"line","interpolate":"monotone","color":"#1a1aee","strokeWidth":1.2},"encoding":{"detail":{"field":"i","type":"nominal"}}},
 {"data":{"name":"bar"},"transform":[{"filter":"datum.c=='1.1'&&datum.T=='15'"}],"mark":{"type":"rule","color":"#333333","strokeWidth":1.3},"encoding":{"x2":{"field":"t2"},"y2":{"field":"v2"}}},
 {"data":{"name":"lab"},"transform":[{"filter":"datum.c=='1.1'&&datum.k=='kv'"}],"mark":{"type":"text","angle":270,"fontSize":14},"encoding":{"text":{"field":"txt","type":"nominal"}}},
 {"data":{"name":"lab"},"transform":[{"filter":"datum.k=='hd'&&datum.T=='15'"}],"mark":{"type":"text","fontSize":15,"color":"#1a1aee"},"encoding":{"text":{"field":"txt","type":"nominal"}}}]},
{"width":21,"height":1,"data":{"values":[{"a":1}]},"mark":{"type":"point","opacity":0},"encoding":{}},
{"width":116,"height":98.7,"encoding":{"x":{"field":"t","type":"quantitative","scale":{"domain":[0,17.06]},"axis":null},"y":{"field":"v","type":"quantitative","scale":{"domain":[-0.3044,1.147]},"axis":null}},"layer":[
 {"data":{"name":"tr"},"transform":[{"filter":"datum.c=='1.1'&&datum.T=='25'"},{"flatten":["t","v"]}],"mark":{"type":"line","interpolate":"monotone","color":"#111111","strokeWidth":1.2},"encoding":{"detail":{"field":"i","type":"nominal"}}},
 {"data":{"name":"bar"},"transform":[{"filter":"datum.c=='1.1'&&datum.T=='25'"}],"mark":{"type":"rule","color":"#333333","strokeWidth":1.3},"encoding":{"x2":{"field":"t2"},"y2":{"field":"v2"}}},
 {"data":{"name":"lab"},"transform":[{"filter":"datum.k=='hd'&&datum.T=='25'"}],"mark":{"type":"text","fontSize":15,"color":"#111111"},"encoding":{"text":{"field":"txt","type":"nominal"}}}]},
{"width":16,"height":1,"data":{"values":[{"a":1}]},"mark":{"type":"point","opacity":0},"encoding":{}},
{"width":116,"height":98.7,"encoding":{"x":{"field":"t","type":"quantitative","scale":{"domain":[0,17.06]},"axis":null},"y":{"field":"v","type":"quantitative","scale":{"domain":[-0.3044,1.147]},"axis":null}},"layer":[
 {"data":{"name":"tr"},"transform":[{"filter":"datum.c=='1.1'&&datum.T=='35'"},{"flatten":["t","v"]}],"mark":{"type":"line","interpolate":"monotone","color":"#ee1c1c","strokeWidth":1.2},"encoding":{"detail":{"field":"i","type":"nominal"}}},
 {"data":{"name":"bar"},"transform":[{"filter":"datum.c=='1.1'&&datum.T=='35'"}],"mark":{"type":"rule","color":"#333333","strokeWidth":1.3},"encoding":{"x2":{"field":"t2"},"y2":{"field":"v2"}}},
 {"data":{"name":"lab"},"transform":[{"filter":"datum.c=='1.1'&&datum.k=='na'"}],"mark":{"type":"text","angle":270,"fontSize":12},"encoding":{"text":{"field":"txt","type":"nominal"}}},
 {"data":{"name":"lab"},"transform":[{"filter":"datum.c=='1.1'&&datum.k=='ms'"}],"mark":{"type":"text","fontSize":12},"encoding":{"text":{"field":"txt","type":"nominal"}}},
 {"data":{"name":"lab"},"transform":[{"filter":"datum.k=='hd'&&datum.T=='35'"}],"mark":{"type":"text","fontSize":15,"color":"#ee1c1c"},"encoding":{"text":{"field":"txt","type":"nominal"}}}]},
{"width":59,"height":1,"data":{"values":[{"a":1}]},"mark":{"type":"point","opacity":0},"encoding":{}},
{"width":115,"height":79,"encoding":{"x":{"field":"mv","type":"quantitative","scale":{"domain":[-41,80]},"axis":{"values":[-20,0,20,40,60,80],"labels":false,"title":null}},"y":{"field":"m","type":"quantitative","scale":{"domain":[-4.5,35]},"axis":{"values":[0,15,30],"labelExpr":"''+datum.value","title":"ms","titleAngle":0,"titleX":-17,"titleY":-8,"titleAlign":"center","titleBaseline":"middle"}},"color":{"field":"T","type":"nominal","scale":{"domain":["15","25","35","k"],"range":["#1a1aee","#111111","#ee1c1c","#111111"]},"legend":null}},"layer":[
 {"data":{"name":"tau"},"transform":[{"filter":"datum.c=='1.1'"},{"flatten":["mv","m","e"]}],"mark":{"type":"line","interpolate":"monotone","strokeWidth":1.2}},
 {"data":{"name":"tau"},"transform":[{"filter":"datum.c=='1.1'"},{"flatten":["mv","m","e"]},{"filter":"datum.e>0"}],"mark":{"type":"errorbar","ticks":{"size":4},"thickness":1.1},"encoding":{"yError":{"field":"e"}}},
 {"data":{"name":"brk"},"transform":[{"filter":"datum.c=='1.1'"}],"mark":{"type":"rule","strokeWidth":0.8},"encoding":{"x2":{"field":"mv2"},"y2":{"field":"m2"},"color":{"value":"#555555"}}},
 {"data":{"name":"str"},"transform":[{"filter":"datum.c=='1.1'"}],"mark":{"type":"text","angle":270,"fontSize":8},"encoding":{"text":{"value":"***"},"color":{"value":"#333333"}}},
 {"data":{"name":"ntx"},"transform":[{"filter":"datum.c=='1.1'"}],"mark":{"type":"text","align":"left","fontSize":12},"encoding":{"text":{"field":"txt","type":"nominal"}}},
 {"data":{"values":[{"mv":36.8,"m":47,"txt":"Act"}]},"mark":{"type":"text","align":"right","font":"Liberation Serif","fontStyle":"italic","fontSize":15},"encoding":{"text":{"field":"txt","type":"nominal"},"color":{"value":"#111111"}}},
 {"data":{"values":[{"mv":36.8,"m":44.5,"txt":"τ"}]},"mark":{"type":"text","align":"left","font":"Liberation Serif","fontStyle":"italic","fontSize":11},"encoding":{"text":{"field":"txt","type":"nominal"},"color":{"value":"#111111"}}}]},
{"width":24,"height":1,"data":{"values":[{"a":1}]},"mark":{"type":"point","opacity":0},"encoding":{}},
{"width":114,"height":79,"encoding":{"x":{"field":"mv","type":"quantitative","scale":{"domain":[-24.6,81]},"axis":{"values":[-20,0,20,40,60,80],"labels":false,"title":null}},"y":{"field":"q","type":"quantitative","scale":{"domain":[-0.5,9.9]},"axis":{"values":[0,4,8],"title":null,"labelFontSize":15}}},"layer":[
 {"data":{"name":"q10"},"transform":[{"filter":"datum.c=='1.1'"},{"flatten":["mv","q"]}],"mark":{"type":"line","interpolate":"monotone","strokeWidth":1.2},"encoding":{"color":{"field":"T","type":"nominal","scale":{"domain":["15","25","35","k"],"range":["#1a1aee","#111111","#ee1c1c","#111111"]},"legend":null}}},
 {"data":{"name":"qh"},"transform":[{"filter":"datum.k=='ir'"}],"mark":{"type":"text","align":"right","font":"Liberation Serif","fontStyle":"italic","fontSize":15},"encoding":{"text":{"field":"txt","type":"nominal"}}},
 {"data":{"name":"qh"},"transform":[{"filter":"datum.k=='rl'"}],"mark":{"type":"text","align":"left","font":"Liberation Serif","fontSize":10},"encoding":{"text":{"field":"txt","type":"nominal"}}},
 {"data":{"name":"qh"},"transform":[{"filter":"datum.k=='tl'"}],"mark":{"type":"text","align":"left","font":"Liberation Serif","fontSize":8},"encoding":{"text":{"field":"txt","type":"nominal"},"color":{"field":"T","type":"nominal","scale":{"domain":["15","25","35","k"],"range":["#1a1aee","#111111","#ee1c1c","#111111"]},"legend":null}}}]},

{"width":116,"height":98.7,"encoding":{"x":{"field":"t","type":"quantitative","scale":{"domain":[0,17.06]},"axis":null},"y":{"field":"v","type":"quantitative","scale":{"domain":[-0.3044,1.147]},"axis":null}},"layer":[
 {"data":{"name":"tr"},"transform":[{"filter":"datum.c=='1.4'&&datum.T=='15'"},{"flatten":["t","v"]}],"mark":{"type":"line","interpolate":"monotone","color":"#1a1aee","strokeWidth":1.2},"encoding":{"detail":{"field":"i","type":"nominal"}}},
 {"data":{"name":"bar"},"transform":[{"filter":"datum.c=='1.4'&&datum.T=='15'"}],"mark":{"type":"rule","color":"#333333","strokeWidth":1.3},"encoding":{"x2":{"field":"t2"},"y2":{"field":"v2"}}},
 {"data":{"name":"lab"},"transform":[{"filter":"datum.c=='1.4'&&datum.k=='kv'"}],"mark":{"type":"text","angle":270,"fontSize":14},"encoding":{"text":{"field":"txt","type":"nominal"}}}]},
{"width":21,"height":1,"data":{"values":[{"a":1}]},"mark":{"type":"point","opacity":0},"encoding":{}},
{"width":116,"height":98.7,"encoding":{"x":{"field":"t","type":"quantitative","scale":{"domain":[0,17.06]},"axis":null},"y":{"field":"v","type":"quantitative","scale":{"domain":[-0.3044,1.147]},"axis":null}},"layer":[
 {"data":{"name":"tr"},"transform":[{"filter":"datum.c=='1.4'&&datum.T=='25'"},{"flatten":["t","v"]}],"mark":{"type":"line","interpolate":"monotone","color":"#111111","strokeWidth":1.2},"encoding":{"detail":{"field":"i","type":"nominal"}}},
 {"data":{"name":"bar"},"transform":[{"filter":"datum.c=='1.4'&&datum.T=='25'"}],"mark":{"type":"rule","color":"#333333","strokeWidth":1.3},"encoding":{"x2":{"field":"t2"},"y2":{"field":"v2"}}}]},
{"width":16,"height":1,"data":{"values":[{"a":1}]},"mark":{"type":"point","opacity":0},"encoding":{}},
{"width":116,"height":98.7,"encoding":{"x":{"field":"t","type":"quantitative","scale":{"domain":[0,17.06]},"axis":null},"y":{"field":"v","type":"quantitative","scale":{"domain":[-0.3044,1.147]},"axis":null}},"layer":[
 {"data":{"name":"tr"},"transform":[{"filter":"datum.c=='1.4'&&datum.T=='35'"},{"flatten":["t","v"]}],"mark":{"type":"line","interpolate":"monotone","color":"#ee1c1c","strokeWidth":1.2},"encoding":{"detail":{"field":"i","type":"nominal"}}},
 {"data":{"name":"bar"},"transform":[{"filter":"datum.c=='1.4'&&datum.T=='35'"}],"mark":{"type":"rule","color":"#333333","strokeWidth":1.3},"encoding":{"x2":{"field":"t2"},"y2":{"field":"v2"}}},
 {"data":{"name":"lab"},"transform":[{"filter":"datum.c=='1.4'&&datum.k=='na'"}],"mark":{"type":"text","angle":270,"fontSize":12},"encoding":{"text":{"field":"txt","type":"nominal"}}},
 {"data":{"name":"lab"},"transform":[{"filter":"datum.c=='1.4'&&datum.k=='ms'"}],"mark":{"type":"text","fontSize":12},"encoding":{"text":{"field":"txt","type":"nominal"}}}]},
{"width":59,"height":1,"data":{"values":[{"a":1}]},"mark":{"type":"point","opacity":0},"encoding":{}},
{"width":115,"height":79,"encoding":{"x":{"field":"mv","type":"quantitative","scale":{"domain":[-41,80]},"axis":{"values":[-20,0,20,40,60,80],"labels":false,"title":null}},"y":{"field":"m","type":"quantitative","scale":{"domain":[-1.7,18.1]},"axis":{"values":[0,7.5,15],"labelExpr":"''+datum.value","title":null}},"color":{"field":"T","type":"nominal","scale":{"domain":["15","25","35","k"],"range":["#1a1aee","#111111","#ee1c1c","#111111"]},"legend":null}},"layer":[
 {"data":{"name":"tau"},"transform":[{"filter":"datum.c=='1.4'"},{"flatten":["mv","m","e"]}],"mark":{"type":"line","interpolate":"monotone","strokeWidth":1.2}},
 {"data":{"name":"tau"},"transform":[{"filter":"datum.c=='1.4'"},{"flatten":["mv","m","e"]},{"filter":"datum.e>0"}],"mark":{"type":"errorbar","ticks":{"size":4},"thickness":1.1},"encoding":{"yError":{"field":"e"}}},
 {"data":{"name":"brk"},"transform":[{"filter":"datum.c=='1.4'"}],"mark":{"type":"rule","strokeWidth":0.8},"encoding":{"x2":{"field":"mv2"},"y2":{"field":"m2"},"color":{"value":"#555555"}}},
 {"data":{"name":"str"},"transform":[{"filter":"datum.c=='1.4'"}],"mark":{"type":"text","angle":270,"fontSize":8},"encoding":{"text":{"value":"***"},"color":{"value":"#333333"}}},
 {"data":{"name":"ntx"},"transform":[{"filter":"datum.c=='1.4'"}],"mark":{"type":"text","align":"left","fontSize":12},"encoding":{"text":{"field":"txt","type":"nominal"}}}]},
{"width":24,"height":1,"data":{"values":[{"a":1}]},"mark":{"type":"point","opacity":0},"encoding":{}},
{"width":114,"height":79,"encoding":{"x":{"field":"mv","type":"quantitative","scale":{"domain":[-24.6,81]},"axis":{"values":[-20,0,20,40,60,80],"labels":false,"title":null}},"y":{"field":"q","type":"quantitative","scale":{"domain":[-0.5,9.9]},"axis":{"values":[0,4,8],"title":null,"labelFontSize":15}}},"layer":[
 {"data":{"name":"q10"},"transform":[{"filter":"datum.c=='1.4'"},{"flatten":["mv","q"]}],"mark":{"type":"line","interpolate":"monotone","strokeWidth":1.2},"encoding":{"color":{"field":"T","type":"nominal","scale":{"domain":["15","25","35","k"],"range":["#1a1aee","#111111","#ee1c1c","#111111"]},"legend":null}}}]},

{"width":116,"height":98.7,"encoding":{"x":{"field":"t","type":"quantitative","scale":{"domain":[0,17.06]},"axis":null},"y":{"field":"v","type":"quantitative","scale":{"domain":[-0.3044,1.147]},"axis":null}},"layer":[
 {"data":{"name":"tr"},"transform":[{"filter":"datum.c=='1.7'&&datum.T=='15'"},{"flatten":["t","v"]}],"mark":{"type":"line","interpolate":"monotone","color":"#1a1aee","strokeWidth":1.2},"encoding":{"detail":{"field":"i","type":"nominal"}}},
 {"data":{"name":"bar"},"transform":[{"filter":"datum.c=='1.7'&&datum.T=='15'"}],"mark":{"type":"rule","color":"#333333","strokeWidth":1.3},"encoding":{"x2":{"field":"t2"},"y2":{"field":"v2"}}},
 {"data":{"name":"lab"},"transform":[{"filter":"datum.c=='1.7'&&datum.k=='kv'"}],"mark":{"type":"text","angle":270,"fontSize":14},"encoding":{"text":{"field":"txt","type":"nominal"}}}]},
{"width":21,"height":1,"data":{"values":[{"a":1}]},"mark":{"type":"point","opacity":0},"encoding":{}},
{"width":116,"height":98.7,"encoding":{"x":{"field":"t","type":"quantitative","scale":{"domain":[0,17.06]},"axis":null},"y":{"field":"v","type":"quantitative","scale":{"domain":[-0.3044,1.147]},"axis":null}},"layer":[
 {"data":{"name":"tr"},"transform":[{"filter":"datum.c=='1.7'&&datum.T=='25'"},{"flatten":["t","v"]}],"mark":{"type":"line","interpolate":"monotone","color":"#111111","strokeWidth":1.2},"encoding":{"detail":{"field":"i","type":"nominal"}}},
 {"data":{"name":"bar"},"transform":[{"filter":"datum.c=='1.7'&&datum.T=='25'"}],"mark":{"type":"rule","color":"#333333","strokeWidth":1.3},"encoding":{"x2":{"field":"t2"},"y2":{"field":"v2"}}}]},
{"width":16,"height":1,"data":{"values":[{"a":1}]},"mark":{"type":"point","opacity":0},"encoding":{}},
{"width":116,"height":98.7,"encoding":{"x":{"field":"t","type":"quantitative","scale":{"domain":[0,17.06]},"axis":null},"y":{"field":"v","type":"quantitative","scale":{"domain":[-0.3044,1.147]},"axis":null}},"layer":[
 {"data":{"name":"tr"},"transform":[{"filter":"datum.c=='1.7'&&datum.T=='35'"},{"flatten":["t","v"]}],"mark":{"type":"line","interpolate":"monotone","color":"#ee1c1c","strokeWidth":1.2},"encoding":{"detail":{"field":"i","type":"nominal"}}},
 {"data":{"name":"bar"},"transform":[{"filter":"datum.c=='1.7'&&datum.T=='35'"}],"mark":{"type":"rule","color":"#333333","strokeWidth":1.3},"encoding":{"x2":{"field":"t2"},"y2":{"field":"v2"}}},
 {"data":{"name":"lab"},"transform":[{"filter":"datum.c=='1.7'&&datum.k=='na'"}],"mark":{"type":"text","angle":270,"fontSize":12},"encoding":{"text":{"field":"txt","type":"nominal"}}},
 {"data":{"name":"lab"},"transform":[{"filter":"datum.c=='1.7'&&datum.k=='ms'"}],"mark":{"type":"text","fontSize":12},"encoding":{"text":{"field":"txt","type":"nominal"}}}]},
{"width":59,"height":1,"data":{"values":[{"a":1}]},"mark":{"type":"point","opacity":0},"encoding":{}},
{"width":115,"height":79,"encoding":{"x":{"field":"mv","type":"quantitative","scale":{"domain":[-41,80]},"axis":{"values":[-20,0,20,40,60,80],"labels":false,"title":null}},"y":{"field":"m","type":"quantitative","scale":{"domain":[-2.2,16.9]},"axis":{"values":[0,7.5,15],"labelExpr":"''+datum.value","title":null}},"color":{"field":"T","type":"nominal","scale":{"domain":["15","25","35","k"],"range":["#1a1aee","#111111","#ee1c1c","#111111"]},"legend":null}},"layer":[
 {"data":{"name":"tau"},"transform":[{"filter":"datum.c=='1.7'"},{"flatten":["mv","m","e"]}],"mark":{"type":"line","interpolate":"monotone","strokeWidth":1.2}},
 {"data":{"name":"tau"},"transform":[{"filter":"datum.c=='1.7'"},{"flatten":["mv","m","e"]},{"filter":"datum.e>0"}],"mark":{"type":"errorbar","ticks":{"size":4},"thickness":1.1},"encoding":{"yError":{"field":"e"}}},
 {"data":{"name":"brk"},"transform":[{"filter":"datum.c=='1.7'"}],"mark":{"type":"rule","strokeWidth":0.8},"encoding":{"x2":{"field":"mv2"},"y2":{"field":"m2"},"color":{"value":"#555555"}}},
 {"data":{"name":"str"},"transform":[{"filter":"datum.c=='1.7'"}],"mark":{"type":"text","angle":270,"fontSize":8},"encoding":{"text":{"value":"***"},"color":{"value":"#333333"}}},
 {"data":{"name":"ntx"},"transform":[{"filter":"datum.c=='1.7'"}],"mark":{"type":"text","align":"left","fontSize":12},"encoding":{"text":{"field":"txt","type":"nominal"}}}]},
{"width":24,"height":1,"data":{"values":[{"a":1}]},"mark":{"type":"point","opacity":0},"encoding":{}},
{"width":114,"height":79,"encoding":{"x":{"field":"mv","type":"quantitative","scale":{"domain":[-24.6,81]},"axis":{"values":[-20,0,20,40,60,80],"labels":false,"title":null}},"y":{"field":"q","type":"quantitative","scale":{"domain":[-0.5,9.9]},"axis":{"values":[0,4,8],"title":null,"labelFontSize":15}}},"layer":[
 {"data":{"name":"q10"},"transform":[{"filter":"datum.c=='1.7'"},{"flatten":["mv","q"]}],"mark":{"type":"line","interpolate":"monotone","strokeWidth":1.2},"encoding":{"color":{"field":"T","type":"nominal","scale":{"domain":["15","25","35","k"],"range":["#1a1aee","#111111","#ee1c1c","#111111"]},"legend":null}}}]},

{"width":116,"height":98.7,"encoding":{"x":{"field":"t","type":"quantitative","scale":{"domain":[0,50]},"axis":null},"y":{"field":"v","type":"quantitative","scale":{"domain":[-0.3044,1.147]},"axis":null}},"layer":[
 {"data":{"name":"tr"},"transform":[{"filter":"datum.c=='2.1'&&datum.T=='15'"},{"flatten":["t","v"]}],"mark":{"type":"line","interpolate":"monotone","color":"#1a1aee","strokeWidth":1.2},"encoding":{"detail":{"field":"i","type":"nominal"}}},
 {"data":{"name":"bar"},"transform":[{"filter":"datum.c=='2.1'&&datum.T=='15'"}],"mark":{"type":"rule","color":"#333333","strokeWidth":1.3},"encoding":{"x2":{"field":"t2"},"y2":{"field":"v2"}}},
 {"data":{"name":"lab"},"transform":[{"filter":"datum.c=='2.1'&&datum.k=='kv'"}],"mark":{"type":"text","angle":270,"fontSize":14},"encoding":{"text":{"field":"txt","type":"nominal"}}}]},
{"width":21,"height":1,"data":{"values":[{"a":1}]},"mark":{"type":"point","opacity":0},"encoding":{}},
{"width":116,"height":98.7,"encoding":{"x":{"field":"t","type":"quantitative","scale":{"domain":[0,50]},"axis":null},"y":{"field":"v","type":"quantitative","scale":{"domain":[-0.3044,1.147]},"axis":null}},"layer":[
 {"data":{"name":"tr"},"transform":[{"filter":"datum.c=='2.1'&&datum.T=='25'"},{"flatten":["t","v"]}],"mark":{"type":"line","interpolate":"monotone","color":"#111111","strokeWidth":1.2},"encoding":{"detail":{"field":"i","type":"nominal"}}},
 {"data":{"name":"bar"},"transform":[{"filter":"datum.c=='2.1'&&datum.T=='25'"}],"mark":{"type":"rule","color":"#333333","strokeWidth":1.3},"encoding":{"x2":{"field":"t2"},"y2":{"field":"v2"}}}]},
{"width":16,"height":1,"data":{"values":[{"a":1}]},"mark":{"type":"point","opacity":0},"encoding":{}},
{"width":116,"height":98.7,"encoding":{"x":{"field":"t","type":"quantitative","scale":{"domain":[0,50]},"axis":null},"y":{"field":"v","type":"quantitative","scale":{"domain":[-0.3044,1.147]},"axis":null}},"layer":[
 {"data":{"name":"tr"},"transform":[{"filter":"datum.c=='2.1'&&datum.T=='35'"},{"flatten":["t","v"]}],"mark":{"type":"line","interpolate":"monotone","color":"#ee1c1c","strokeWidth":1.2},"encoding":{"detail":{"field":"i","type":"nominal"}}},
 {"data":{"name":"bar"},"transform":[{"filter":"datum.c=='2.1'&&datum.T=='35'"}],"mark":{"type":"rule","color":"#333333","strokeWidth":1.3},"encoding":{"x2":{"field":"t2"},"y2":{"field":"v2"}}},
 {"data":{"name":"lab"},"transform":[{"filter":"datum.c=='2.1'&&datum.k=='na'"}],"mark":{"type":"text","angle":270,"fontSize":12},"encoding":{"text":{"field":"txt","type":"nominal"}}},
 {"data":{"name":"lab"},"transform":[{"filter":"datum.c=='2.1'&&datum.k=='ms'"}],"mark":{"type":"text","fontSize":12},"encoding":{"text":{"field":"txt","type":"nominal"}}}]},
{"width":59,"height":1,"data":{"values":[{"a":1}]},"mark":{"type":"point","opacity":0},"encoding":{}},
{"width":115,"height":79,"encoding":{"x":{"field":"mv","type":"quantitative","scale":{"domain":[-41,80]},"axis":{"values":[-20,0,20,40,60,80],"labels":false,"title":null}},"y":{"field":"m","type":"quantitative","scale":{"domain":[-20.5,159]},"axis":{"values":[0,75,150],"labelExpr":"''+datum.value","title":null}},"color":{"field":"T","type":"nominal","scale":{"domain":["15","25","35","k"],"range":["#1a1aee","#111111","#ee1c1c","#111111"]},"legend":null}},"layer":[
 {"data":{"name":"tau"},"transform":[{"filter":"datum.c=='2.1'"},{"flatten":["mv","m","e"]}],"mark":{"type":"line","interpolate":"monotone","strokeWidth":1.2}},
 {"data":{"name":"tau"},"transform":[{"filter":"datum.c=='2.1'"},{"flatten":["mv","m","e"]},{"filter":"datum.e>0"}],"mark":{"type":"errorbar","ticks":{"size":4},"thickness":1.1},"encoding":{"yError":{"field":"e"}}},
 {"data":{"name":"brk"},"transform":[{"filter":"datum.c=='2.1'"}],"mark":{"type":"rule","strokeWidth":0.8},"encoding":{"x2":{"field":"mv2"},"y2":{"field":"m2"},"color":{"value":"#555555"}}},
 {"data":{"name":"str"},"transform":[{"filter":"datum.c=='2.1'"}],"mark":{"type":"text","angle":270,"fontSize":8},"encoding":{"text":{"value":"***"},"color":{"value":"#333333"}}},
 {"data":{"name":"ntx"},"transform":[{"filter":"datum.c=='2.1'"}],"mark":{"type":"text","align":"left","fontSize":12},"encoding":{"text":{"field":"txt","type":"nominal"}}}]},
{"width":24,"height":1,"data":{"values":[{"a":1}]},"mark":{"type":"point","opacity":0},"encoding":{}},
{"width":114,"height":79,"encoding":{"x":{"field":"mv","type":"quantitative","scale":{"domain":[-24.6,81]},"axis":{"values":[-20,0,20,40,60,80],"labels":false,"title":null}},"y":{"field":"q","type":"quantitative","scale":{"domain":[-0.5,9.9]},"axis":{"values":[0,4,8],"title":null,"labelFontSize":15}}},"layer":[
 {"data":{"name":"q10"},"transform":[{"filter":"datum.c=='2.1'"},{"flatten":["mv","q"]}],"mark":{"type":"line","interpolate":"monotone","strokeWidth":1.2},"encoding":{"color":{"field":"T","type":"nominal","scale":{"domain":["15","25","35","k"],"range":["#1a1aee","#111111","#ee1c1c","#111111"]},"legend":null}}}]},

{"width":116,"height":98.7,"encoding":{"x":{"field":"t","type":"quantitative","scale":{"domain":[0,17.06]},"axis":null},"y":{"field":"v","type":"quantitative","scale":{"domain":[-0.3044,1.147]},"axis":null}},"layer":[
 {"data":{"name":"tr"},"transform":[{"filter":"datum.c=='3.1'&&datum.T=='15'"},{"flatten":["t","v"]}],"mark":{"type":"line","interpolate":"monotone","color":"#1a1aee","strokeWidth":1.2},"encoding":{"detail":{"field":"i","type":"nominal"}}},
 {"data":{"name":"bar"},"transform":[{"filter":"datum.c=='3.1'&&datum.T=='15'"}],"mark":{"type":"rule","color":"#333333","strokeWidth":1.3},"encoding":{"x2":{"field":"t2"},"y2":{"field":"v2"}}},
 {"data":{"name":"lab"},"transform":[{"filter":"datum.c=='3.1'&&datum.k=='kv'"}],"mark":{"type":"text","angle":270,"fontSize":14},"encoding":{"text":{"field":"txt","type":"nominal"}}}]},
{"width":21,"height":1,"data":{"values":[{"a":1}]},"mark":{"type":"point","opacity":0},"encoding":{}},
{"width":116,"height":98.7,"encoding":{"x":{"field":"t","type":"quantitative","scale":{"domain":[0,17.06]},"axis":null},"y":{"field":"v","type":"quantitative","scale":{"domain":[-0.3044,1.147]},"axis":null}},"layer":[
 {"data":{"name":"tr"},"transform":[{"filter":"datum.c=='3.1'&&datum.T=='25'"},{"flatten":["t","v"]}],"mark":{"type":"line","interpolate":"monotone","color":"#111111","strokeWidth":1.2},"encoding":{"detail":{"field":"i","type":"nominal"}}},
 {"data":{"name":"bar"},"transform":[{"filter":"datum.c=='3.1'&&datum.T=='25'"}],"mark":{"type":"rule","color":"#333333","strokeWidth":1.3},"encoding":{"x2":{"field":"t2"},"y2":{"field":"v2"}}}]},
{"width":16,"height":1,"data":{"values":[{"a":1}]},"mark":{"type":"point","opacity":0},"encoding":{}},
{"width":116,"height":98.7,"encoding":{"x":{"field":"t","type":"quantitative","scale":{"domain":[0,17.06]},"axis":null},"y":{"field":"v","type":"quantitative","scale":{"domain":[-0.3044,1.147]},"axis":null}},"layer":[
 {"data":{"name":"tr"},"transform":[{"filter":"datum.c=='3.1'&&datum.T=='35'"},{"flatten":["t","v"]}],"mark":{"type":"line","interpolate":"monotone","color":"#ee1c1c","strokeWidth":1.2},"encoding":{"detail":{"field":"i","type":"nominal"}}},
 {"data":{"name":"bar"},"transform":[{"filter":"datum.c=='3.1'&&datum.T=='35'"}],"mark":{"type":"rule","color":"#333333","strokeWidth":1.3},"encoding":{"x2":{"field":"t2"},"y2":{"field":"v2"}}},
 {"data":{"name":"lab"},"transform":[{"filter":"datum.c=='3.1'&&datum.k=='na'"}],"mark":{"type":"text","angle":270,"fontSize":12},"encoding":{"text":{"field":"txt","type":"nominal"}}},
 {"data":{"name":"lab"},"transform":[{"filter":"datum.c=='3.1'&&datum.k=='ms'"}],"mark":{"type":"text","fontSize":12},"encoding":{"text":{"field":"txt","type":"nominal"}}}]},
{"width":59,"height":1,"data":{"values":[{"a":1}]},"mark":{"type":"point","opacity":0},"encoding":{}},
{"width":115,"height":79,"encoding":{"x":{"field":"mv","type":"quantitative","scale":{"domain":[-41,80]},"axis":{"values":[-20,0,20,40,60,80],"labels":false,"title":null}},"y":{"field":"m","type":"quantitative","scale":{"domain":[-3.2,24.9]},"axis":{"values":[0,10,20],"labelExpr":"''+datum.value","title":null}},"color":{"field":"T","type":"nominal","scale":{"domain":["15","25","35","k"],"range":["#1a1aee","#111111","#ee1c1c","#111111"]},"legend":null}},"layer":[
 {"data":{"name":"tau"},"transform":[{"filter":"datum.c=='3.1'"},{"flatten":["mv","m","e"]}],"mark":{"type":"line","interpolate":"monotone","strokeWidth":1.2}},
 {"data":{"name":"tau"},"transform":[{"filter":"datum.c=='3.1'"},{"flatten":["mv","m","e"]},{"filter":"datum.e>0"}],"mark":{"type":"errorbar","ticks":{"size":4},"thickness":1.1},"encoding":{"yError":{"field":"e"}}},
 {"data":{"name":"brk"},"transform":[{"filter":"datum.c=='3.1'"}],"mark":{"type":"rule","strokeWidth":0.8},"encoding":{"x2":{"field":"mv2"},"y2":{"field":"m2"},"color":{"value":"#555555"}}},
 {"data":{"name":"str"},"transform":[{"filter":"datum.c=='3.1'"}],"mark":{"type":"text","angle":270,"fontSize":8},"encoding":{"text":{"value":"***"},"color":{"value":"#333333"}}},
 {"data":{"name":"ntx"},"transform":[{"filter":"datum.c=='3.1'"}],"mark":{"type":"text","align":"left","fontSize":12},"encoding":{"text":{"field":"txt","type":"nominal"}}}]},
{"width":24,"height":1,"data":{"values":[{"a":1}]},"mark":{"type":"point","opacity":0},"encoding":{}},
{"width":114,"height":79,"encoding":{"x":{"field":"mv","type":"quantitative","scale":{"domain":[-24.6,81]},"axis":{"values":[-20,0,20,40,60,80],"labels":false,"title":null}},"y":{"field":"q","type":"quantitative","scale":{"domain":[-0.5,9.9]},"axis":{"values":[0,4,8],"title":null,"labelFontSize":15}}},"layer":[
 {"data":{"name":"q10"},"transform":[{"filter":"datum.c=='3.1'"},{"flatten":["mv","q"]}],"mark":{"type":"line","interpolate":"monotone","strokeWidth":1.2},"encoding":{"color":{"field":"T","type":"nominal","scale":{"domain":["15","25","35","k"],"range":["#1a1aee","#111111","#ee1c1c","#111111"]},"legend":null}}}]},

{"width":116,"height":98.7,"encoding":{"x":{"field":"t","type":"quantitative","scale":{"domain":[0,174]},"axis":null},"y":{"field":"v","type":"quantitative","scale":{"domain":[-0.3044,1.147]},"axis":null}},"layer":[
 {"data":{"name":"tr"},"transform":[{"filter":"datum.c=='7.1'&&datum.T=='15'"},{"flatten":["t","v"]}],"mark":{"type":"line","interpolate":"monotone","color":"#1a1aee","strokeWidth":1.2},"encoding":{"detail":{"field":"i","type":"nominal"}}},
 {"data":{"name":"bar"},"transform":[{"filter":"datum.c=='7.1'&&datum.T=='15'"}],"mark":{"type":"rule","color":"#333333","strokeWidth":1.3},"encoding":{"x2":{"field":"t2"},"y2":{"field":"v2"}}},
 {"data":{"name":"lab"},"transform":[{"filter":"datum.c=='7.1'&&datum.k=='kv'"}],"mark":{"type":"text","angle":270,"fontSize":14},"encoding":{"text":{"field":"txt","type":"nominal"}}}]},
{"width":21,"height":1,"data":{"values":[{"a":1}]},"mark":{"type":"point","opacity":0},"encoding":{}},
{"width":116,"height":98.7,"encoding":{"x":{"field":"t","type":"quantitative","scale":{"domain":[0,174]},"axis":null},"y":{"field":"v","type":"quantitative","scale":{"domain":[-0.3044,1.147]},"axis":null}},"layer":[
 {"data":{"name":"tr"},"transform":[{"filter":"datum.c=='7.1'&&datum.T=='25'"},{"flatten":["t","v"]}],"mark":{"type":"line","interpolate":"monotone","color":"#111111","strokeWidth":1.3},"encoding":{"detail":{"field":"i","type":"nominal"}}},
 {"data":{"name":"bar"},"transform":[{"filter":"datum.c=='7.1'&&datum.T=='25'"}],"mark":{"type":"rule","color":"#333333","strokeWidth":1.3},"encoding":{"x2":{"field":"t2"},"y2":{"field":"v2"}}}]},
{"width":16,"height":1,"data":{"values":[{"a":1}]},"mark":{"type":"point","opacity":0},"encoding":{}},
{"width":116,"height":98.7,"encoding":{"x":{"field":"t","type":"quantitative","scale":{"domain":[0,174]},"axis":null},"y":{"field":"v","type":"quantitative","scale":{"domain":[-0.3044,1.147]},"axis":null}},"layer":[
 {"data":{"name":"tr"},"transform":[{"filter":"datum.c=='7.1'&&datum.T=='35'"},{"flatten":["t","v"]}],"mark":{"type":"line","interpolate":"monotone","color":"#ee1c1c","strokeWidth":1.6},"encoding":{"detail":{"field":"i","type":"nominal"}}},
 {"data":{"name":"bar"},"transform":[{"filter":"datum.c=='7.1'&&datum.T=='35'"}],"mark":{"type":"rule","color":"#333333","strokeWidth":1.3},"encoding":{"x2":{"field":"t2"},"y2":{"field":"v2"}}},
 {"data":{"name":"lab"},"transform":[{"filter":"datum.c=='7.1'&&datum.k=='na'"}],"mark":{"type":"text","angle":270,"fontSize":12},"encoding":{"text":{"field":"txt","type":"nominal"}}},
 {"data":{"name":"lab"},"transform":[{"filter":"datum.c=='7.1'&&datum.k=='ms'"}],"mark":{"type":"text","fontSize":12},"encoding":{"text":{"field":"txt","type":"nominal"}}}]},
{"width":59,"height":1,"data":{"values":[{"a":1}]},"mark":{"type":"point","opacity":0},"encoding":{}},
{"width":115,"height":79,"encoding":{"x":{"field":"mv","type":"quantitative","scale":{"domain":[-41,80]},"axis":{"values":[-20,0,20,40,60,80],"labels":false,"title":null}},"y":{"field":"m","type":"quantitative","scale":{"domain":[-38.5,342]},"axis":{"values":[0,150,300],"labelExpr":"''+datum.value","title":null}},"color":{"field":"T","type":"nominal","scale":{"domain":["15","25","35","k"],"range":["#1a1aee","#111111","#ee1c1c","#111111"]},"legend":null}},"layer":[
 {"data":{"name":"tau"},"transform":[{"filter":"datum.c=='7.1'"},{"flatten":["mv","m","e"]}],"mark":{"type":"line","interpolate":"monotone","strokeWidth":1.2}},
 {"data":{"name":"tau"},"transform":[{"filter":"datum.c=='7.1'"},{"flatten":["mv","m","e"]},{"filter":"datum.e>0"}],"mark":{"type":"errorbar","ticks":{"size":4},"thickness":1.1},"encoding":{"yError":{"field":"e"}}},
 {"data":{"name":"brk"},"transform":[{"filter":"datum.c=='7.1'"}],"mark":{"type":"rule","strokeWidth":0.8},"encoding":{"x2":{"field":"mv2"},"y2":{"field":"m2"},"color":{"value":"#555555"}}},
 {"data":{"name":"str"},"transform":[{"filter":"datum.c=='7.1'"}],"mark":{"type":"text","angle":270,"fontSize":8},"encoding":{"text":{"value":"***"},"color":{"value":"#333333"}}},
 {"data":{"name":"ntx"},"transform":[{"filter":"datum.c=='7.1'"}],"mark":{"type":"text","align":"left","fontSize":12},"encoding":{"text":{"field":"txt","type":"nominal"}}}]},
{"width":24,"height":1,"data":{"values":[{"a":1}]},"mark":{"type":"point","opacity":0},"encoding":{}},
{"width":114,"height":79,"encoding":{"x":{"field":"mv","type":"quantitative","scale":{"domain":[-24.6,81]},"axis":{"values":[-20,0,20,40,60,80],"labels":false,"title":null}},"y":{"field":"q","type":"quantitative","scale":{"domain":[-0.5,9.9]},"axis":{"values":[0,4,8],"title":null,"labelFontSize":15}}},"layer":[
 {"data":{"name":"q10"},"transform":[{"filter":"datum.c=='7.1'"},{"flatten":["mv","q"]}],"mark":{"type":"line","interpolate":"monotone","strokeWidth":1.2},"encoding":{"color":{"field":"T","type":"nominal","scale":{"domain":["15","25","35","k"],"range":["#1a1aee","#111111","#ee1c1c","#111111"]},"legend":null}}}]},

{"width":116,"height":98.7,"encoding":{"x":{"field":"t","type":"quantitative","scale":{"domain":[0,348]},"axis":null},"y":{"field":"v","type":"quantitative","scale":{"domain":[-0.3044,1.147]},"axis":null}},"layer":[
 {"data":{"name":"tr"},"transform":[{"filter":"datum.c=='10.1'&&datum.T=='15'"},{"flatten":["t","v"]}],"mark":{"type":"line","interpolate":"monotone","color":"#1a1aee","strokeWidth":1.2},"encoding":{"detail":{"field":"i","type":"nominal"}}},
 {"data":{"name":"bar"},"transform":[{"filter":"datum.c=='10.1'&&datum.T=='15'"}],"mark":{"type":"rule","color":"#333333","strokeWidth":1.3},"encoding":{"x2":{"field":"t2"},"y2":{"field":"v2"}}},
 {"data":{"name":"lab"},"transform":[{"filter":"datum.c=='10.1'&&datum.k=='kv'"}],"mark":{"type":"text","angle":270,"fontSize":14},"encoding":{"text":{"field":"txt","type":"nominal"}}}]},
{"width":21,"height":1,"data":{"values":[{"a":1}]},"mark":{"type":"point","opacity":0},"encoding":{}},
{"width":116,"height":98.7,"encoding":{"x":{"field":"t","type":"quantitative","scale":{"domain":[0,348]},"axis":null},"y":{"field":"v","type":"quantitative","scale":{"domain":[-0.3044,1.147]},"axis":null}},"layer":[
 {"data":{"name":"tr"},"transform":[{"filter":"datum.c=='10.1'&&datum.T=='25'"},{"flatten":["t","v"]}],"mark":{"type":"line","interpolate":"monotone","color":"#111111","strokeWidth":1.2},"encoding":{"detail":{"field":"i","type":"nominal"}}},
 {"data":{"name":"bar"},"transform":[{"filter":"datum.c=='10.1'&&datum.T=='25'"}],"mark":{"type":"rule","color":"#333333","strokeWidth":1.3},"encoding":{"x2":{"field":"t2"},"y2":{"field":"v2"}}}]},
{"width":16,"height":1,"data":{"values":[{"a":1}]},"mark":{"type":"point","opacity":0},"encoding":{}},
{"width":116,"height":98.7,"encoding":{"x":{"field":"t","type":"quantitative","scale":{"domain":[0,348]},"axis":null},"y":{"field":"v","type":"quantitative","scale":{"domain":[-0.3044,1.147]},"axis":null}},"layer":[
 {"data":{"name":"tr"},"transform":[{"filter":"datum.c=='10.1'&&datum.T=='35'"},{"flatten":["t","v"]}],"mark":{"type":"line","interpolate":"monotone","color":"#ee1c1c","strokeWidth":1.2},"encoding":{"detail":{"field":"i","type":"nominal"}}},
 {"data":{"name":"bar"},"transform":[{"filter":"datum.c=='10.1'&&datum.T=='35'"}],"mark":{"type":"rule","color":"#333333","strokeWidth":1.3},"encoding":{"x2":{"field":"t2"},"y2":{"field":"v2"}}},
 {"data":{"name":"lab"},"transform":[{"filter":"datum.c=='10.1'&&datum.k=='na'"}],"mark":{"type":"text","angle":270,"fontSize":12},"encoding":{"text":{"field":"txt","type":"nominal"}}},
 {"data":{"name":"lab"},"transform":[{"filter":"datum.c=='10.1'&&datum.k=='ms'"}],"mark":{"type":"text","fontSize":12},"encoding":{"text":{"field":"txt","type":"nominal"}}}]},
{"width":59,"height":1,"data":{"values":[{"a":1}]},"mark":{"type":"point","opacity":0},"encoding":{}},
{"width":115,"height":79,"encoding":{"x":{"field":"mv","type":"quantitative","scale":{"domain":[-41,80]},"axis":{"values":[-20,0,20,40,60,80],"labelExpr":"datum.value==-20||datum.value==80?datum.label:''","title":"mV","titleX":68,"titleY":13,"titleBaseline":"middle"}},"y":{"field":"m","type":"quantitative","scale":{"domain":[-40,464]},"axis":{"values":[0,200,400],"labelExpr":"''+datum.value","title":null}},"color":{"field":"T","type":"nominal","scale":{"domain":["15","25","35","k"],"range":["#1a1aee","#111111","#ee1c1c","#111111"]},"legend":null}},"layer":[
 {"data":{"name":"tau"},"transform":[{"filter":"datum.c=='10.1'"},{"flatten":["mv","m","e"]}],"mark":{"type":"line","interpolate":"monotone","strokeWidth":1.2}},
 {"data":{"name":"tau"},"transform":[{"filter":"datum.c=='10.1'"},{"flatten":["mv","m","e"]},{"filter":"datum.e>0"}],"mark":{"type":"errorbar","ticks":{"size":4},"thickness":1.1},"encoding":{"yError":{"field":"e"}}},
 {"data":{"name":"brk"},"transform":[{"filter":"datum.c=='10.1'"}],"mark":{"type":"rule","strokeWidth":0.8},"encoding":{"x2":{"field":"mv2"},"y2":{"field":"m2"},"color":{"value":"#555555"}}},
 {"data":{"name":"str"},"transform":[{"filter":"datum.c=='10.1'"}],"mark":{"type":"text","angle":270,"fontSize":8},"encoding":{"text":{"value":"***"},"color":{"value":"#333333"}}},
 {"data":{"name":"ntx"},"transform":[{"filter":"datum.c=='10.1'"}],"mark":{"type":"text","align":"left","fontSize":12},"encoding":{"text":{"field":"txt","type":"nominal"}}}]},
{"width":24,"height":1,"data":{"values":[{"a":1}]},"mark":{"type":"point","opacity":0},"encoding":{}},
{"width":114,"height":79,"encoding":{"x":{"field":"mv","type":"quantitative","scale":{"domain":[-24.6,81]},"axis":{"values":[-20,0,20,40,60,80],"labelExpr":"datum.value==-20||datum.value==80?datum.label:''","labelFlush":2,"title":"mV","titleX":54,"titleY":13,"titleBaseline":"middle"}},"y":{"field":"q","type":"quantitative","scale":{"domain":[-0.5,9.9]},"axis":{"values":[0,4,8],"title":null,"labelFontSize":15}}},"layer":[
 {"data":{"name":"q10"},"transform":[{"filter":"datum.c=='10.1'"},{"flatten":["mv","q"]}],"mark":{"type":"line","interpolate":"monotone","strokeWidth":1.2},"encoding":{"color":{"field":"T","type":"nominal","scale":{"domain":["15","25","35","k"],"range":["#1a1aee","#111111","#ee1c1c","#111111"]},"legend":null}}}]}
]}
]
}
